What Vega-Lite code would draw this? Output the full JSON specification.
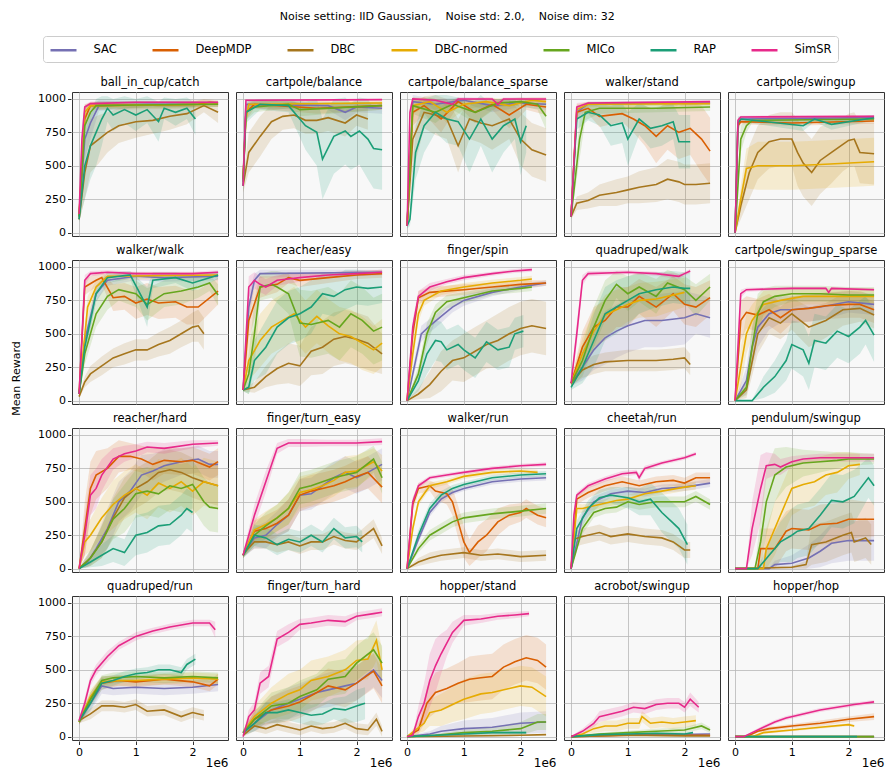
{
"$schema": "https://vega.github.io/schema/vega-lite/v6.json",
"padding": {"left": 10, "top": 10, "right": 5, "bottom": 3},
"title": {"text": "Noise setting: IID Gaussian,\u00a0\u00a0\u00a0 Noise std: 2.0,\u00a0\u00a0\u00a0 Noise dim: 32", "fontSize": 11, "font": "DejaVu Sans", "fontWeight": "normal", "color": "#000", "anchor": "middle", "offset": 14},
"datasets": {
"tasks": [{"p":0,"task":"ball_in_cup/catch"},{"p":1,"task":"cartpole/balance"},{"p":2,"task":"cartpole/balance_sparse"},{"p":3,"task":"walker/stand"},{"p":4,"task":"cartpole/swingup"},{"p":5,"task":"walker/walk"},{"p":6,"task":"reacher/easy"},{"p":7,"task":"finger/spin"},{"p":8,"task":"quadruped/walk"},{"p":9,"task":"cartpole/swingup_sparse"},{"p":10,"task":"reacher/hard"},{"p":11,"task":"finger/turn_easy"},{"p":12,"task":"walker/run"},{"p":13,"task":"cheetah/run"},{"p":14,"task":"pendulum/swingup"},{"p":15,"task":"quadruped/run"},{"p":16,"task":"finger/turn_hard"},{"p":17,"task":"hopper/stand"},{"p":18,"task":"acrobot/swingup"},{"p":19,"task":"hopper/hop"}],
"methods": [{"m":0,"method":"SAC"},{"m":1,"method":"DeepMDP"},{"m":2,"method":"DBC"},{"m":3,"method":"DBC-normed"},{"m":4,"method":"MICo"},{"m":5,"method":"RAP"},{"m":6,"method":"SimSR"}],
"runs": [
{"p":0,"m":0,"x":0,"y":120,"l":100,"h":140},{"p":0,"m":0,"x":0.1,"y":700,"l":550,"h":850},{"p":0,"m":0,"x":0.2,"y":820,"l":700,"h":940},{"p":0,"m":0,"x":0.35,"y":950,"l":910,"h":990},{"p":0,"m":0,"x":1.2,"y":960,"l":940,"h":980},{"p":0,"m":0,"x":2.45,"y":960,"l":940,"h":980},
{"p":0,"m":1,"x":0,"y":130,"l":110,"h":150},{"p":0,"m":1,"x":0.1,"y":850,"l":750,"h":950},{"p":0,"m":1,"x":0.2,"y":950,"l":920,"h":980},{"p":0,"m":1,"x":1.5,"y":955,"l":925,"h":985},{"p":0,"m":1,"x":2.1,"y":960,"l":930,"h":990},{"p":0,"m":1,"x":2.3,"y":975,"l":955,"h":995},{"p":0,"m":1,"x":2.45,"y":970,"l":950,"h":990},
{"p":0,"m":2,"x":0,"y":100,"l":80,"h":120},{"p":0,"m":2,"x":0.1,"y":450,"l":250,"h":650},{"p":0,"m":2,"x":0.2,"y":650,"l":450,"h":850},{"p":0,"m":2,"x":0.35,"y":700,"l":520,"h":880},{"p":0,"m":2,"x":0.5,"y":750,"l":600,"h":900},{"p":0,"m":2,"x":0.7,"y":800,"l":670,"h":930},{"p":0,"m":2,"x":1.0,"y":830,"l":710,"h":950},{"p":0,"m":2,"x":1.3,"y":840,"l":740,"h":940},{"p":0,"m":2,"x":1.6,"y":870,"l":770,"h":970},{"p":0,"m":2,"x":1.9,"y":890,"l":810,"h":970},{"p":0,"m":2,"x":2.2,"y":950,"l":900,"h":1000},{"p":0,"m":2,"x":2.45,"y":900,"l":820,"h":980},
{"p":0,"m":3,"x":0,"y":130,"l":110,"h":150},{"p":0,"m":3,"x":0.1,"y":900,"l":840,"h":960},{"p":0,"m":3,"x":0.2,"y":950,"l":930,"h":970},{"p":0,"m":3,"x":2.45,"y":960,"l":940,"h":980},
{"p":0,"m":4,"x":0,"y":120,"l":100,"h":140},{"p":0,"m":4,"x":0.1,"y":800,"l":650,"h":950},{"p":0,"m":4,"x":0.2,"y":900,"l":840,"h":960},{"p":0,"m":4,"x":0.3,"y":950,"l":920,"h":980},{"p":0,"m":4,"x":1,"y":955,"l":935,"h":975},{"p":0,"m":4,"x":2.45,"y":960,"l":940,"h":980},
{"p":0,"m":5,"x":0,"y":100,"l":80,"h":120},{"p":0,"m":5,"x":0.1,"y":500,"l":250,"h":750},{"p":0,"m":5,"x":0.2,"y":650,"l":400,"h":900},{"p":0,"m":5,"x":0.3,"y":750,"l":500,"h":1000},{"p":0,"m":5,"x":0.4,"y":850,"l":650,"h":1020},{"p":0,"m":5,"x":0.5,"y":930,"l":830,"h":1020},{"p":0,"m":5,"x":0.6,"y":880,"l":760,"h":1000},{"p":0,"m":5,"x":0.8,"y":920,"l":820,"h":1020},{"p":0,"m":5,"x":1.0,"y":880,"l":760,"h":1000},{"p":0,"m":5,"x":1.2,"y":920,"l":820,"h":1020},{"p":0,"m":5,"x":1.4,"y":830,"l":680,"h":980},{"p":0,"m":5,"x":1.5,"y":930,"l":850,"h":1010},{"p":0,"m":5,"x":1.7,"y":900,"l":800,"h":1000},{"p":0,"m":5,"x":1.9,"y":930,"l":850,"h":1010},{"p":0,"m":5,"x":2.05,"y":850,"l":730,"h":970},
{"p":0,"m":6,"x":0,"y":140,"l":120,"h":160},{"p":0,"m":6,"x":0.05,"y":700,"l":600,"h":800},{"p":0,"m":6,"x":0.1,"y":940,"l":920,"h":960},{"p":0,"m":6,"x":0.2,"y":965,"l":950,"h":980},{"p":0,"m":6,"x":1,"y":975,"l":965,"h":985},{"p":0,"m":6,"x":2.45,"y":975,"l":965,"h":985},

{"p":1,"m":0,"x":0,"y":400,"l":350,"h":450},{"p":1,"m":0,"x":0.05,"y":960,"l":930,"h":990},{"p":1,"m":0,"x":1.5,"y":950,"l":920,"h":980},{"p":1,"m":0,"x":1.8,"y":900,"l":840,"h":960},{"p":1,"m":0,"x":2.0,"y":940,"l":900,"h":980},{"p":1,"m":0,"x":2.45,"y":930,"l":890,"h":970},
{"p":1,"m":1,"x":0,"y":400,"l":350,"h":450},{"p":1,"m":1,"x":0.05,"y":900,"l":840,"h":960},{"p":1,"m":1,"x":0.2,"y":960,"l":930,"h":990},{"p":1,"m":1,"x":1.3,"y":930,"l":890,"h":970},{"p":1,"m":1,"x":2.45,"y":950,"l":920,"h":980},
{"p":1,"m":2,"x":0,"y":350,"l":300,"h":400},{"p":1,"m":2,"x":0.1,"y":600,"l":450,"h":750},{"p":1,"m":2,"x":0.3,"y":720,"l":570,"h":870},{"p":1,"m":2,"x":0.5,"y":830,"l":700,"h":960},{"p":1,"m":2,"x":0.7,"y":870,"l":770,"h":970},{"p":1,"m":2,"x":0.9,"y":880,"l":780,"h":980},{"p":1,"m":2,"x":1.1,"y":840,"l":740,"h":940},{"p":1,"m":2,"x":1.3,"y":840,"l":740,"h":940},{"p":1,"m":2,"x":1.5,"y":860,"l":760,"h":960},{"p":1,"m":2,"x":1.8,"y":820,"l":720,"h":920},{"p":1,"m":2,"x":2.0,"y":880,"l":800,"h":960},{"p":1,"m":2,"x":2.2,"y":850,"l":770,"h":930},
{"p":1,"m":3,"x":0,"y":400,"l":350,"h":450},{"p":1,"m":3,"x":0.05,"y":850,"l":750,"h":950},{"p":1,"m":3,"x":0.1,"y":960,"l":930,"h":990},{"p":1,"m":3,"x":2.45,"y":970,"l":950,"h":990},
{"p":1,"m":4,"x":0,"y":380,"l":330,"h":430},{"p":1,"m":4,"x":0.05,"y":900,"l":840,"h":960},{"p":1,"m":4,"x":0.2,"y":940,"l":900,"h":980},{"p":1,"m":4,"x":0.8,"y":960,"l":930,"h":990},{"p":1,"m":4,"x":1.0,"y":920,"l":870,"h":970},{"p":1,"m":4,"x":2.45,"y":950,"l":920,"h":980},
{"p":1,"m":5,"x":0,"y":350,"l":300,"h":400},{"p":1,"m":5,"x":0.05,"y":900,"l":820,"h":980},{"p":1,"m":5,"x":0.3,"y":960,"l":920,"h":1000},{"p":1,"m":5,"x":0.8,"y":950,"l":900,"h":1000},{"p":1,"m":5,"x":1.1,"y":800,"l":620,"h":980},{"p":1,"m":5,"x":1.3,"y":750,"l":500,"h":1000},{"p":1,"m":5,"x":1.4,"y":550,"l":250,"h":850},{"p":1,"m":5,"x":1.6,"y":720,"l":440,"h":1000},{"p":1,"m":5,"x":1.8,"y":760,"l":510,"h":1010},{"p":1,"m":5,"x":1.9,"y":720,"l":470,"h":970},{"p":1,"m":5,"x":2.05,"y":760,"l":510,"h":1010},{"p":1,"m":5,"x":2.2,"y":700,"l":400,"h":1000},{"p":1,"m":5,"x":2.3,"y":630,"l":330,"h":930},{"p":1,"m":5,"x":2.45,"y":620,"l":320,"h":920},
{"p":1,"m":6,"x":0,"y":350,"l":320,"h":380},{"p":1,"m":6,"x":0.05,"y":990,"l":980,"h":1000},{"p":1,"m":6,"x":2.45,"y":995,"l":990,"h":1000},

{"p":2,"m":0,"x":0,"y":50,"l":40,"h":60},{"p":2,"m":0,"x":0.1,"y":980,"l":930,"h":1030},{"p":2,"m":0,"x":0.5,"y":960,"l":920,"h":1000},{"p":2,"m":0,"x":1.0,"y":990,"l":970,"h":1010},{"p":2,"m":0,"x":1.5,"y":950,"l":900,"h":1000},{"p":2,"m":0,"x":2.0,"y":970,"l":940,"h":1000},{"p":2,"m":0,"x":2.45,"y":960,"l":920,"h":1000},
{"p":2,"m":1,"x":0,"y":50,"l":40,"h":60},{"p":2,"m":1,"x":0.1,"y":900,"l":800,"h":1000},{"p":2,"m":1,"x":0.3,"y":950,"l":890,"h":1010},{"p":2,"m":1,"x":0.6,"y":850,"l":750,"h":950},{"p":2,"m":1,"x":0.9,"y":980,"l":950,"h":1010},{"p":2,"m":1,"x":1.2,"y":900,"l":820,"h":980},{"p":2,"m":1,"x":1.5,"y":960,"l":920,"h":1000},{"p":2,"m":1,"x":1.8,"y":880,"l":780,"h":980},{"p":2,"m":1,"x":2.1,"y":960,"l":920,"h":1000},{"p":2,"m":1,"x":2.45,"y":940,"l":880,"h":1000},
{"p":2,"m":2,"x":0,"y":50,"l":30,"h":70},{"p":2,"m":2,"x":0.1,"y":700,"l":450,"h":950},{"p":2,"m":2,"x":0.3,"y":900,"l":780,"h":1020},{"p":2,"m":2,"x":0.5,"y":880,"l":730,"h":1030},{"p":2,"m":2,"x":0.7,"y":850,"l":700,"h":1000},{"p":2,"m":2,"x":0.9,"y":650,"l":450,"h":850},{"p":2,"m":2,"x":1.1,"y":850,"l":700,"h":1000},{"p":2,"m":2,"x":1.3,"y":820,"l":670,"h":970},{"p":2,"m":2,"x":1.5,"y":800,"l":620,"h":980},{"p":2,"m":2,"x":1.8,"y":850,"l":700,"h":1000},{"p":2,"m":2,"x":2.0,"y":700,"l":500,"h":900},{"p":2,"m":2,"x":2.2,"y":620,"l":420,"h":820},{"p":2,"m":2,"x":2.45,"y":580,"l":380,"h":780},
{"p":2,"m":3,"x":0,"y":50,"l":40,"h":60},{"p":2,"m":3,"x":0.1,"y":950,"l":890,"h":1010},{"p":2,"m":3,"x":0.4,"y":980,"l":950,"h":1010},{"p":2,"m":3,"x":0.7,"y":900,"l":820,"h":980},{"p":2,"m":3,"x":1.0,"y":960,"l":920,"h":1000},{"p":2,"m":3,"x":1.4,"y":980,"l":950,"h":1010},{"p":2,"m":3,"x":1.8,"y":950,"l":900,"h":1000},{"p":2,"m":3,"x":2.2,"y":990,"l":970,"h":1010},{"p":2,"m":3,"x":2.45,"y":980,"l":950,"h":1010},
{"p":2,"m":4,"x":0,"y":50,"l":40,"h":60},{"p":2,"m":4,"x":0.1,"y":950,"l":890,"h":1010},{"p":2,"m":4,"x":0.5,"y":900,"l":820,"h":980},{"p":2,"m":4,"x":0.8,"y":960,"l":920,"h":1000},{"p":2,"m":4,"x":1.2,"y":900,"l":820,"h":980},{"p":2,"m":4,"x":1.6,"y":970,"l":940,"h":1000},{"p":2,"m":4,"x":2.0,"y":980,"l":950,"h":1010},{"p":2,"m":4,"x":2.3,"y":960,"l":920,"h":1000},{"p":2,"m":4,"x":2.45,"y":870,"l":770,"h":970},
{"p":2,"m":5,"x":0,"y":50,"l":30,"h":70},{"p":2,"m":5,"x":0.05,"y":100,"l":50,"h":150},{"p":2,"m":5,"x":0.15,"y":600,"l":400,"h":800},{"p":2,"m":5,"x":0.3,"y":800,"l":600,"h":1000},{"p":2,"m":5,"x":0.5,"y":900,"l":750,"h":1030},{"p":2,"m":5,"x":0.7,"y":850,"l":670,"h":1030},{"p":2,"m":5,"x":0.9,"y":830,"l":650,"h":1010},{"p":2,"m":5,"x":1.1,"y":700,"l":450,"h":950},{"p":2,"m":5,"x":1.3,"y":850,"l":650,"h":1030},{"p":2,"m":5,"x":1.5,"y":700,"l":450,"h":950},{"p":2,"m":5,"x":1.7,"y":800,"l":600,"h":1000},{"p":2,"m":5,"x":1.9,"y":850,"l":700,"h":1000},{"p":2,"m":5,"x":2.0,"y":680,"l":430,"h":930},{"p":2,"m":5,"x":2.1,"y":800,"l":600,"h":1000},
{"p":2,"m":6,"x":0,"y":50,"l":40,"h":60},{"p":2,"m":6,"x":0.05,"y":900,"l":850,"h":950},{"p":2,"m":6,"x":0.1,"y":1000,"l":990,"h":1010},{"p":2,"m":6,"x":0.5,"y":990,"l":980,"h":1000},{"p":2,"m":6,"x":0.8,"y":960,"l":930,"h":990},{"p":2,"m":6,"x":0.9,"y":1000,"l":990,"h":1010},{"p":2,"m":6,"x":1.5,"y":1000,"l":990,"h":1010},{"p":2,"m":6,"x":1.6,"y":960,"l":930,"h":990},{"p":2,"m":6,"x":1.7,"y":1000,"l":990,"h":1010},{"p":2,"m":6,"x":2.45,"y":1000,"l":990,"h":1010},

{"p":3,"m":0,"x":0,"y":120,"l":110,"h":130},{"p":3,"m":0,"x":0.1,"y":900,"l":850,"h":950},{"p":3,"m":0,"x":0.3,"y":965,"l":950,"h":980},{"p":3,"m":0,"x":2.45,"y":970,"l":955,"h":985},
{"p":3,"m":1,"x":0,"y":120,"l":110,"h":130},{"p":3,"m":1,"x":0.1,"y":900,"l":850,"h":950},{"p":3,"m":1,"x":0.3,"y":930,"l":890,"h":970},{"p":3,"m":1,"x":0.5,"y":870,"l":790,"h":950},{"p":3,"m":1,"x":0.9,"y":890,"l":830,"h":950},{"p":3,"m":1,"x":1.1,"y":850,"l":750,"h":950},{"p":3,"m":1,"x":1.3,"y":800,"l":650,"h":950},{"p":3,"m":1,"x":1.5,"y":720,"l":520,"h":920},{"p":3,"m":1,"x":1.7,"y":800,"l":620,"h":980},{"p":3,"m":1,"x":1.9,"y":750,"l":550,"h":950},{"p":3,"m":1,"x":2.1,"y":780,"l":580,"h":980},{"p":3,"m":1,"x":2.3,"y":700,"l":450,"h":950},{"p":3,"m":1,"x":2.45,"y":610,"l":360,"h":860},
{"p":3,"m":2,"x":0,"y":120,"l":100,"h":140},{"p":3,"m":2,"x":0.1,"y":220,"l":170,"h":270},{"p":3,"m":2,"x":0.3,"y":240,"l":180,"h":300},{"p":3,"m":2,"x":0.5,"y":280,"l":200,"h":360},{"p":3,"m":2,"x":0.8,"y":300,"l":200,"h":400},{"p":3,"m":2,"x":1.0,"y":320,"l":220,"h":420},{"p":3,"m":2,"x":1.2,"y":340,"l":220,"h":460},{"p":3,"m":2,"x":1.5,"y":360,"l":230,"h":490},{"p":3,"m":2,"x":1.7,"y":400,"l":250,"h":550},{"p":3,"m":2,"x":1.9,"y":380,"l":230,"h":530},{"p":3,"m":2,"x":2.0,"y":360,"l":210,"h":510},{"p":3,"m":2,"x":2.2,"y":360,"l":210,"h":510},{"p":3,"m":2,"x":2.45,"y":370,"l":220,"h":520},
{"p":3,"m":3,"x":0,"y":120,"l":110,"h":130},{"p":3,"m":3,"x":0.1,"y":920,"l":880,"h":960},{"p":3,"m":3,"x":0.3,"y":960,"l":940,"h":980},{"p":3,"m":3,"x":2.45,"y":965,"l":950,"h":980},
{"p":3,"m":4,"x":0,"y":120,"l":110,"h":130},{"p":3,"m":4,"x":0.15,"y":700,"l":550,"h":850},{"p":3,"m":4,"x":0.25,"y":900,"l":840,"h":960},{"p":3,"m":4,"x":0.5,"y":930,"l":890,"h":970},{"p":3,"m":4,"x":1.5,"y":930,"l":900,"h":960},{"p":3,"m":4,"x":2.45,"y":940,"l":910,"h":970},
{"p":3,"m":5,"x":0,"y":120,"l":110,"h":130},{"p":3,"m":5,"x":0.1,"y":850,"l":770,"h":930},{"p":3,"m":5,"x":0.3,"y":900,"l":840,"h":960},{"p":3,"m":5,"x":0.5,"y":880,"l":800,"h":960},{"p":3,"m":5,"x":0.7,"y":800,"l":650,"h":950},{"p":3,"m":5,"x":0.9,"y":820,"l":670,"h":970},{"p":3,"m":5,"x":1.0,"y":700,"l":500,"h":900},{"p":3,"m":5,"x":1.2,"y":850,"l":730,"h":970},{"p":3,"m":5,"x":1.4,"y":780,"l":630,"h":930},{"p":3,"m":5,"x":1.6,"y":800,"l":650,"h":950},{"p":3,"m":5,"x":1.8,"y":830,"l":700,"h":960},{"p":3,"m":5,"x":1.9,"y":680,"l":480,"h":880},{"p":3,"m":5,"x":2.1,"y":680,"l":480,"h":880},
{"p":3,"m":6,"x":0,"y":120,"l":110,"h":130},{"p":3,"m":6,"x":0.1,"y":940,"l":910,"h":970},{"p":3,"m":6,"x":0.3,"y":970,"l":960,"h":980},{"p":3,"m":6,"x":2.45,"y":980,"l":970,"h":990},

{"p":4,"m":0,"x":0,"y":0,"l":0,"h":10},{"p":4,"m":0,"x":0.05,"y":800,"l":750,"h":850},{"p":4,"m":0,"x":0.1,"y":850,"l":830,"h":870},{"p":4,"m":0,"x":2.45,"y":860,"l":845,"h":875},
{"p":4,"m":1,"x":0,"y":0,"l":0,"h":10},{"p":4,"m":1,"x":0.05,"y":800,"l":750,"h":850},{"p":4,"m":1,"x":0.1,"y":830,"l":810,"h":850},{"p":4,"m":1,"x":1.0,"y":820,"l":800,"h":840},{"p":4,"m":1,"x":2.45,"y":835,"l":815,"h":855},
{"p":4,"m":2,"x":0,"y":0,"l":0,"h":10},{"p":4,"m":2,"x":0.1,"y":200,"l":100,"h":300},{"p":4,"m":2,"x":0.25,"y":450,"l":250,"h":650},{"p":4,"m":2,"x":0.4,"y":600,"l":400,"h":800},{"p":4,"m":2,"x":0.6,"y":680,"l":480,"h":880},{"p":4,"m":2,"x":0.8,"y":700,"l":500,"h":900},{"p":4,"m":2,"x":1.0,"y":700,"l":500,"h":900},{"p":4,"m":2,"x":1.1,"y":600,"l":350,"h":850},{"p":4,"m":2,"x":1.2,"y":520,"l":270,"h":770},{"p":4,"m":2,"x":1.35,"y":450,"l":200,"h":700},{"p":4,"m":2,"x":1.5,"y":540,"l":290,"h":790},{"p":4,"m":2,"x":1.7,"y":600,"l":370,"h":830},{"p":4,"m":2,"x":1.9,"y":660,"l":460,"h":860},{"p":4,"m":2,"x":2.0,"y":690,"l":490,"h":890},{"p":4,"m":2,"x":2.1,"y":700,"l":500,"h":900},{"p":4,"m":2,"x":2.2,"y":600,"l":370,"h":830},{"p":4,"m":2,"x":2.45,"y":590,"l":360,"h":820},
{"p":4,"m":3,"x":0,"y":0,"l":0,"h":10},{"p":4,"m":3,"x":0.1,"y":250,"l":150,"h":350},{"p":4,"m":3,"x":0.2,"y":480,"l":330,"h":630},{"p":4,"m":3,"x":0.4,"y":500,"l":320,"h":680},{"p":4,"m":3,"x":1.0,"y":500,"l":320,"h":680},{"p":4,"m":3,"x":1.5,"y":510,"l":330,"h":690},{"p":4,"m":3,"x":2.45,"y":530,"l":350,"h":710},
{"p":4,"m":4,"x":0,"y":0,"l":0,"h":10},{"p":4,"m":4,"x":0.1,"y":700,"l":600,"h":800},{"p":4,"m":4,"x":0.2,"y":800,"l":750,"h":850},{"p":4,"m":4,"x":0.3,"y":840,"l":820,"h":860},{"p":4,"m":4,"x":2.45,"y":850,"l":830,"h":870},
{"p":4,"m":5,"x":0,"y":0,"l":0,"h":10},{"p":4,"m":5,"x":0.05,"y":820,"l":770,"h":870},{"p":4,"m":5,"x":0.1,"y":850,"l":830,"h":870},{"p":4,"m":5,"x":1.2,"y":800,"l":760,"h":840},{"p":4,"m":5,"x":1.4,"y":850,"l":830,"h":870},{"p":4,"m":5,"x":1.7,"y":810,"l":770,"h":850},{"p":4,"m":5,"x":2.45,"y":860,"l":840,"h":880},
{"p":4,"m":6,"x":0,"y":0,"l":0,"h":10},{"p":4,"m":6,"x":0.05,"y":840,"l":820,"h":860},{"p":4,"m":6,"x":0.1,"y":865,"l":855,"h":875},{"p":4,"m":6,"x":2.45,"y":870,"l":860,"h":880},

{"p":5,"m":0,"x":0,"y":50,"l":40,"h":60},{"p":5,"m":0,"x":0.1,"y":450,"l":370,"h":530},{"p":5,"m":0,"x":0.3,"y":800,"l":740,"h":860},{"p":5,"m":0,"x":0.5,"y":900,"l":860,"h":940},{"p":5,"m":0,"x":1,"y":930,"l":900,"h":960},{"p":5,"m":0,"x":1.5,"y":920,"l":890,"h":950},{"p":5,"m":0,"x":2.45,"y":930,"l":900,"h":960},
{"p":5,"m":1,"x":0,"y":50,"l":40,"h":60},{"p":5,"m":1,"x":0.1,"y":850,"l":790,"h":910},{"p":5,"m":1,"x":0.3,"y":900,"l":850,"h":950},{"p":5,"m":1,"x":0.4,"y":920,"l":870,"h":970},{"p":5,"m":1,"x":0.6,"y":770,"l":670,"h":870},{"p":5,"m":1,"x":0.8,"y":780,"l":680,"h":880},{"p":5,"m":1,"x":1.0,"y":730,"l":610,"h":850},{"p":5,"m":1,"x":1.2,"y":760,"l":640,"h":880},{"p":5,"m":1,"x":1.4,"y":730,"l":610,"h":850},{"p":5,"m":1,"x":1.7,"y":740,"l":620,"h":860},{"p":5,"m":1,"x":1.9,"y":700,"l":570,"h":830},{"p":5,"m":1,"x":2.1,"y":700,"l":570,"h":830},{"p":5,"m":1,"x":2.45,"y":820,"l":720,"h":920},
{"p":5,"m":2,"x":0,"y":30,"l":20,"h":40},{"p":5,"m":2,"x":0.1,"y":140,"l":100,"h":180},{"p":5,"m":2,"x":0.2,"y":200,"l":140,"h":260},{"p":5,"m":2,"x":0.4,"y":260,"l":190,"h":330},{"p":5,"m":2,"x":0.6,"y":320,"l":250,"h":390},{"p":5,"m":2,"x":0.8,"y":350,"l":270,"h":430},{"p":5,"m":2,"x":1.0,"y":380,"l":300,"h":460},{"p":5,"m":2,"x":1.2,"y":380,"l":300,"h":460},{"p":5,"m":2,"x":1.4,"y":420,"l":330,"h":510},{"p":5,"m":2,"x":1.6,"y":450,"l":350,"h":550},{"p":5,"m":2,"x":1.8,"y":500,"l":400,"h":600},{"p":5,"m":2,"x":2.0,"y":550,"l":440,"h":660},{"p":5,"m":2,"x":2.1,"y":560,"l":440,"h":680},{"p":5,"m":2,"x":2.2,"y":500,"l":380,"h":620},
{"p":5,"m":3,"x":0,"y":50,"l":40,"h":60},{"p":5,"m":3,"x":0.15,"y":700,"l":620,"h":780},{"p":5,"m":3,"x":0.3,"y":850,"l":800,"h":900},{"p":5,"m":3,"x":0.5,"y":930,"l":900,"h":960},{"p":5,"m":3,"x":2.45,"y":940,"l":920,"h":960},
{"p":5,"m":4,"x":0,"y":50,"l":40,"h":60},{"p":5,"m":4,"x":0.1,"y":350,"l":270,"h":430},{"p":5,"m":4,"x":0.3,"y":650,"l":550,"h":750},{"p":5,"m":4,"x":0.5,"y":780,"l":680,"h":880},{"p":5,"m":4,"x":0.7,"y":830,"l":750,"h":910},{"p":5,"m":4,"x":1.0,"y":800,"l":700,"h":900},{"p":5,"m":4,"x":1.2,"y":720,"l":600,"h":840},{"p":5,"m":4,"x":1.5,"y":800,"l":700,"h":900},{"p":5,"m":4,"x":1.8,"y":820,"l":720,"h":920},{"p":5,"m":4,"x":2.1,"y":850,"l":770,"h":930},{"p":5,"m":4,"x":2.3,"y":880,"l":820,"h":940},{"p":5,"m":4,"x":2.45,"y":790,"l":710,"h":870},
{"p":5,"m":5,"x":0,"y":50,"l":40,"h":60},{"p":5,"m":5,"x":0.1,"y":400,"l":320,"h":480},{"p":5,"m":5,"x":0.3,"y":800,"l":740,"h":860},{"p":5,"m":5,"x":0.5,"y":920,"l":880,"h":960},{"p":5,"m":5,"x":0.9,"y":940,"l":910,"h":970},{"p":5,"m":5,"x":1.2,"y":700,"l":550,"h":850},{"p":5,"m":5,"x":1.3,"y":900,"l":840,"h":960},{"p":5,"m":5,"x":1.7,"y":920,"l":880,"h":960},{"p":5,"m":5,"x":2.0,"y":880,"l":820,"h":940},{"p":5,"m":5,"x":2.3,"y":920,"l":880,"h":960},{"p":5,"m":5,"x":2.45,"y":940,"l":910,"h":970},
{"p":5,"m":6,"x":0,"y":50,"l":40,"h":60},{"p":5,"m":6,"x":0.1,"y":900,"l":860,"h":940},{"p":5,"m":6,"x":0.2,"y":950,"l":930,"h":970},{"p":5,"m":6,"x":0.5,"y":960,"l":945,"h":975},{"p":5,"m":6,"x":1,"y":950,"l":935,"h":965},{"p":5,"m":6,"x":2,"y":950,"l":935,"h":965},{"p":5,"m":6,"x":2.45,"y":960,"l":945,"h":975},

{"p":6,"m":0,"x":0,"y":80,"l":70,"h":90},{"p":6,"m":0,"x":0.1,"y":700,"l":600,"h":800},{"p":6,"m":0,"x":0.2,"y":900,"l":850,"h":950},{"p":6,"m":0,"x":0.3,"y":950,"l":920,"h":980},{"p":6,"m":0,"x":2.45,"y":960,"l":940,"h":980},
{"p":6,"m":1,"x":0,"y":80,"l":70,"h":90},{"p":6,"m":1,"x":0.1,"y":600,"l":450,"h":750},{"p":6,"m":1,"x":0.3,"y":850,"l":770,"h":930},{"p":6,"m":1,"x":0.6,"y":870,"l":810,"h":930},{"p":6,"m":1,"x":0.8,"y":920,"l":880,"h":960},{"p":6,"m":1,"x":1.0,"y":900,"l":850,"h":950},{"p":6,"m":1,"x":1.5,"y":920,"l":880,"h":960},{"p":6,"m":1,"x":2.0,"y":940,"l":910,"h":970},{"p":6,"m":1,"x":2.45,"y":950,"l":920,"h":980},
{"p":6,"m":2,"x":0,"y":80,"l":70,"h":90},{"p":6,"m":2,"x":0.2,"y":100,"l":60,"h":140},{"p":6,"m":2,"x":0.4,"y":180,"l":100,"h":260},{"p":6,"m":2,"x":0.6,"y":240,"l":120,"h":360},{"p":6,"m":2,"x":0.8,"y":280,"l":130,"h":430},{"p":6,"m":2,"x":1.0,"y":260,"l":110,"h":410},{"p":6,"m":2,"x":1.2,"y":370,"l":190,"h":550},{"p":6,"m":2,"x":1.4,"y":400,"l":200,"h":600},{"p":6,"m":2,"x":1.6,"y":460,"l":260,"h":660},{"p":6,"m":2,"x":1.8,"y":480,"l":280,"h":680},{"p":6,"m":2,"x":2.0,"y":460,"l":260,"h":660},{"p":6,"m":2,"x":2.2,"y":430,"l":230,"h":630},{"p":6,"m":2,"x":2.45,"y":350,"l":200,"h":500},
{"p":6,"m":3,"x":0,"y":80,"l":70,"h":90},{"p":6,"m":3,"x":0.1,"y":300,"l":150,"h":450},{"p":6,"m":3,"x":0.3,"y":450,"l":250,"h":650},{"p":6,"m":3,"x":0.5,"y":550,"l":350,"h":750},{"p":6,"m":3,"x":0.7,"y":600,"l":400,"h":800},{"p":6,"m":3,"x":0.9,"y":650,"l":450,"h":850},{"p":6,"m":3,"x":1.1,"y":550,"l":350,"h":750},{"p":6,"m":3,"x":1.3,"y":630,"l":430,"h":830},{"p":6,"m":3,"x":1.5,"y":560,"l":360,"h":760},{"p":6,"m":3,"x":1.7,"y":500,"l":300,"h":700},{"p":6,"m":3,"x":1.9,"y":480,"l":280,"h":680},{"p":6,"m":3,"x":2.1,"y":430,"l":230,"h":630},{"p":6,"m":3,"x":2.3,"y":380,"l":200,"h":560},{"p":6,"m":3,"x":2.45,"y":430,"l":250,"h":610},
{"p":6,"m":4,"x":0,"y":80,"l":70,"h":90},{"p":6,"m":4,"x":0.1,"y":200,"l":50,"h":350},{"p":6,"m":4,"x":0.2,"y":500,"l":250,"h":750},{"p":6,"m":4,"x":0.3,"y":850,"l":750,"h":950},{"p":6,"m":4,"x":0.5,"y":870,"l":770,"h":970},{"p":6,"m":4,"x":0.6,"y":850,"l":730,"h":970},{"p":6,"m":4,"x":0.8,"y":800,"l":650,"h":950},{"p":6,"m":4,"x":1.0,"y":580,"l":330,"h":830},{"p":6,"m":4,"x":1.2,"y":570,"l":320,"h":820},{"p":6,"m":4,"x":1.5,"y":600,"l":350,"h":850},{"p":6,"m":4,"x":1.7,"y":550,"l":300,"h":800},{"p":6,"m":4,"x":1.9,"y":650,"l":400,"h":900},{"p":6,"m":4,"x":2.1,"y":600,"l":350,"h":850},{"p":6,"m":4,"x":2.3,"y":520,"l":270,"h":770},{"p":6,"m":4,"x":2.45,"y":550,"l":300,"h":800},
{"p":6,"m":5,"x":0,"y":80,"l":70,"h":90},{"p":6,"m":5,"x":0.1,"y":100,"l":50,"h":150},{"p":6,"m":5,"x":0.2,"y":300,"l":150,"h":450},{"p":6,"m":5,"x":0.4,"y":400,"l":200,"h":600},{"p":6,"m":5,"x":0.6,"y":550,"l":350,"h":750},{"p":6,"m":5,"x":0.8,"y":620,"l":420,"h":820},{"p":6,"m":5,"x":1.0,"y":650,"l":450,"h":850},{"p":6,"m":5,"x":1.2,"y":700,"l":500,"h":900},{"p":6,"m":5,"x":1.4,"y":800,"l":650,"h":950},{"p":6,"m":5,"x":1.6,"y":780,"l":630,"h":930},{"p":6,"m":5,"x":1.8,"y":830,"l":680,"h":980},{"p":6,"m":5,"x":2.0,"y":850,"l":720,"h":980},{"p":6,"m":5,"x":2.2,"y":840,"l":710,"h":970},{"p":6,"m":5,"x":2.45,"y":850,"l":730,"h":970},
{"p":6,"m":6,"x":0,"y":80,"l":70,"h":90},{"p":6,"m":6,"x":0.1,"y":850,"l":770,"h":930},{"p":6,"m":6,"x":0.2,"y":900,"l":840,"h":960},{"p":6,"m":6,"x":0.3,"y":870,"l":810,"h":930},{"p":6,"m":6,"x":0.4,"y":850,"l":790,"h":910},{"p":6,"m":6,"x":0.6,"y":900,"l":860,"h":940},{"p":6,"m":6,"x":1.0,"y":920,"l":890,"h":950},{"p":6,"m":6,"x":1.5,"y":940,"l":920,"h":960},{"p":6,"m":6,"x":2.0,"y":950,"l":930,"h":970},{"p":6,"m":6,"x":2.45,"y":960,"l":940,"h":980},

{"p":7,"m":0,"x":0,"y":0,"l":0,"h":5},{"p":7,"m":0,"x":0.15,"y":300,"l":240,"h":360},{"p":7,"m":0,"x":0.25,"y":500,"l":440,"h":560},{"p":7,"m":0,"x":0.4,"y":560,"l":510,"h":610},{"p":7,"m":0,"x":0.6,"y":630,"l":580,"h":680},{"p":7,"m":0,"x":0.8,"y":700,"l":660,"h":740},{"p":7,"m":0,"x":1.0,"y":750,"l":710,"h":790},{"p":7,"m":0,"x":1.5,"y":810,"l":780,"h":840},{"p":7,"m":0,"x":2.0,"y":850,"l":830,"h":870},{"p":7,"m":0,"x":2.45,"y":880,"l":860,"h":900},
{"p":7,"m":1,"x":0,"y":0,"l":0,"h":5},{"p":7,"m":1,"x":0.1,"y":500,"l":420,"h":580},{"p":7,"m":1,"x":0.2,"y":770,"l":720,"h":820},{"p":7,"m":1,"x":0.4,"y":810,"l":770,"h":850},{"p":7,"m":1,"x":1.0,"y":830,"l":790,"h":870},{"p":7,"m":1,"x":1.5,"y":850,"l":820,"h":880},{"p":7,"m":1,"x":2.0,"y":870,"l":840,"h":900},{"p":7,"m":1,"x":2.45,"y":880,"l":860,"h":900},
{"p":7,"m":2,"x":0,"y":0,"l":0,"h":5},{"p":7,"m":2,"x":0.2,"y":50,"l":10,"h":90},{"p":7,"m":2,"x":0.4,"y":120,"l":20,"h":220},{"p":7,"m":2,"x":0.6,"y":220,"l":70,"h":370},{"p":7,"m":2,"x":0.8,"y":300,"l":150,"h":450},{"p":7,"m":2,"x":1.0,"y":320,"l":140,"h":500},{"p":7,"m":2,"x":1.2,"y":370,"l":190,"h":550},{"p":7,"m":2,"x":1.4,"y":420,"l":240,"h":600},{"p":7,"m":2,"x":1.6,"y":450,"l":250,"h":650},{"p":7,"m":2,"x":1.8,"y":500,"l":300,"h":700},{"p":7,"m":2,"x":2.0,"y":540,"l":340,"h":740},{"p":7,"m":2,"x":2.2,"y":560,"l":360,"h":760},{"p":7,"m":2,"x":2.45,"y":540,"l":340,"h":740},
{"p":7,"m":3,"x":0,"y":0,"l":0,"h":5},{"p":7,"m":3,"x":0.1,"y":350,"l":270,"h":430},{"p":7,"m":3,"x":0.2,"y":650,"l":590,"h":710},{"p":7,"m":3,"x":0.3,"y":750,"l":710,"h":790},{"p":7,"m":3,"x":0.6,"y":820,"l":790,"h":850},{"p":7,"m":3,"x":1.0,"y":850,"l":820,"h":880},{"p":7,"m":3,"x":1.5,"y":880,"l":855,"h":905},{"p":7,"m":3,"x":2.0,"y":900,"l":875,"h":925},{"p":7,"m":3,"x":2.2,"y":910,"l":885,"h":935},
{"p":7,"m":4,"x":0,"y":0,"l":0,"h":5},{"p":7,"m":4,"x":0.2,"y":200,"l":140,"h":260},{"p":7,"m":4,"x":0.35,"y":500,"l":420,"h":580},{"p":7,"m":4,"x":0.5,"y":660,"l":600,"h":720},{"p":7,"m":4,"x":0.7,"y":740,"l":690,"h":790},{"p":7,"m":4,"x":1.0,"y":770,"l":730,"h":810},{"p":7,"m":4,"x":1.5,"y":820,"l":790,"h":850},{"p":7,"m":4,"x":2.0,"y":840,"l":810,"h":870},{"p":7,"m":4,"x":2.2,"y":850,"l":820,"h":880},
{"p":7,"m":5,"x":0,"y":0,"l":0,"h":5},{"p":7,"m":5,"x":0.2,"y":150,"l":70,"h":230},{"p":7,"m":5,"x":0.35,"y":350,"l":200,"h":500},{"p":7,"m":5,"x":0.5,"y":450,"l":300,"h":600},{"p":7,"m":5,"x":0.6,"y":440,"l":290,"h":590},{"p":7,"m":5,"x":0.7,"y":380,"l":230,"h":530},{"p":7,"m":5,"x":0.9,"y":420,"l":270,"h":570},{"p":7,"m":5,"x":1.0,"y":380,"l":230,"h":530},{"p":7,"m":5,"x":1.2,"y":320,"l":170,"h":470},{"p":7,"m":5,"x":1.4,"y":440,"l":290,"h":590},{"p":7,"m":5,"x":1.6,"y":380,"l":230,"h":530},{"p":7,"m":5,"x":1.8,"y":400,"l":250,"h":550},{"p":7,"m":5,"x":1.9,"y":500,"l":380,"h":620},{"p":7,"m":5,"x":2.05,"y":520,"l":400,"h":640},
{"p":7,"m":6,"x":0,"y":0,"l":0,"h":5},{"p":7,"m":6,"x":0.1,"y":550,"l":490,"h":610},{"p":7,"m":6,"x":0.2,"y":780,"l":740,"h":820},{"p":7,"m":6,"x":0.4,"y":850,"l":820,"h":880},{"p":7,"m":6,"x":0.7,"y":890,"l":870,"h":910},{"p":7,"m":6,"x":1.0,"y":920,"l":900,"h":940},{"p":7,"m":6,"x":1.5,"y":950,"l":935,"h":965},{"p":7,"m":6,"x":1.9,"y":970,"l":955,"h":985},{"p":7,"m":6,"x":2.2,"y":980,"l":965,"h":995},

{"p":8,"m":0,"x":0,"y":130,"l":110,"h":150},{"p":8,"m":0,"x":0.2,"y":250,"l":150,"h":350},{"p":8,"m":0,"x":0.4,"y":380,"l":230,"h":530},{"p":8,"m":0,"x":0.6,"y":470,"l":270,"h":670},{"p":8,"m":0,"x":0.8,"y":520,"l":320,"h":720},{"p":8,"m":0,"x":1.0,"y":560,"l":360,"h":760},{"p":8,"m":0,"x":1.3,"y":600,"l":400,"h":800},{"p":8,"m":0,"x":1.6,"y":600,"l":400,"h":800},{"p":8,"m":0,"x":2.0,"y":620,"l":420,"h":820},{"p":8,"m":0,"x":2.2,"y":650,"l":500,"h":800},{"p":8,"m":0,"x":2.45,"y":620,"l":470,"h":770},
{"p":8,"m":1,"x":0,"y":130,"l":110,"h":150},{"p":8,"m":1,"x":0.2,"y":400,"l":280,"h":520},{"p":8,"m":1,"x":0.4,"y":550,"l":400,"h":700},{"p":8,"m":1,"x":0.6,"y":600,"l":450,"h":750},{"p":8,"m":1,"x":0.8,"y":700,"l":550,"h":850},{"p":8,"m":1,"x":1.0,"y":700,"l":550,"h":850},{"p":8,"m":1,"x":1.2,"y":780,"l":650,"h":910},{"p":8,"m":1,"x":1.5,"y":700,"l":550,"h":850},{"p":8,"m":1,"x":1.8,"y":800,"l":670,"h":930},{"p":8,"m":1,"x":2.0,"y":720,"l":570,"h":870},{"p":8,"m":1,"x":2.2,"y":700,"l":550,"h":850},{"p":8,"m":1,"x":2.45,"y":770,"l":640,"h":900},
{"p":8,"m":2,"x":0,"y":130,"l":110,"h":150},{"p":8,"m":2,"x":0.2,"y":230,"l":170,"h":290},{"p":8,"m":2,"x":0.4,"y":270,"l":200,"h":340},{"p":8,"m":2,"x":0.6,"y":290,"l":220,"h":360},{"p":8,"m":2,"x":1.0,"y":300,"l":220,"h":380},{"p":8,"m":2,"x":1.5,"y":300,"l":220,"h":380},{"p":8,"m":2,"x":1.8,"y":310,"l":230,"h":390},{"p":8,"m":2,"x":2.0,"y":320,"l":240,"h":400},{"p":8,"m":2,"x":2.1,"y":270,"l":190,"h":350},
{"p":8,"m":3,"x":0,"y":130,"l":110,"h":150},{"p":8,"m":3,"x":0.2,"y":350,"l":230,"h":470},{"p":8,"m":3,"x":0.4,"y":520,"l":370,"h":670},{"p":8,"m":3,"x":0.6,"y":640,"l":490,"h":790},{"p":8,"m":3,"x":0.8,"y":680,"l":530,"h":830},{"p":8,"m":3,"x":1.0,"y":720,"l":590,"h":850},{"p":8,"m":3,"x":1.2,"y":750,"l":620,"h":880},{"p":8,"m":3,"x":1.5,"y":760,"l":630,"h":890},{"p":8,"m":3,"x":2.0,"y":810,"l":700,"h":920},
{"p":8,"m":4,"x":0,"y":130,"l":110,"h":150},{"p":8,"m":4,"x":0.2,"y":300,"l":180,"h":420},{"p":8,"m":4,"x":0.4,"y":550,"l":400,"h":700},{"p":8,"m":4,"x":0.6,"y":750,"l":600,"h":900},{"p":8,"m":4,"x":0.8,"y":870,"l":770,"h":970},{"p":8,"m":4,"x":1.0,"y":800,"l":670,"h":930},{"p":8,"m":4,"x":1.2,"y":850,"l":740,"h":960},{"p":8,"m":4,"x":1.5,"y":780,"l":650,"h":910},{"p":8,"m":4,"x":1.7,"y":880,"l":780,"h":980},{"p":8,"m":4,"x":2.0,"y":830,"l":730,"h":930},{"p":8,"m":4,"x":2.2,"y":750,"l":630,"h":870},{"p":8,"m":4,"x":2.45,"y":850,"l":750,"h":950},
{"p":8,"m":5,"x":0,"y":100,"l":80,"h":120},{"p":8,"m":5,"x":0.2,"y":250,"l":130,"h":370},{"p":8,"m":5,"x":0.4,"y":450,"l":250,"h":650},{"p":8,"m":5,"x":0.6,"y":650,"l":450,"h":850},{"p":8,"m":5,"x":0.8,"y":700,"l":500,"h":900},{"p":8,"m":5,"x":1.0,"y":750,"l":570,"h":930},{"p":8,"m":5,"x":1.2,"y":800,"l":650,"h":950},{"p":8,"m":5,"x":1.5,"y":830,"l":700,"h":960},{"p":8,"m":5,"x":1.8,"y":850,"l":730,"h":970},{"p":8,"m":5,"x":2.0,"y":840,"l":720,"h":960},{"p":8,"m":5,"x":2.1,"y":840,"l":720,"h":960},
{"p":8,"m":6,"x":0,"y":130,"l":110,"h":150},{"p":8,"m":6,"x":0.1,"y":500,"l":420,"h":580},{"p":8,"m":6,"x":0.2,"y":900,"l":860,"h":940},{"p":8,"m":6,"x":0.3,"y":950,"l":930,"h":970},{"p":8,"m":6,"x":1.0,"y":960,"l":945,"h":975},{"p":8,"m":6,"x":1.5,"y":950,"l":935,"h":965},{"p":8,"m":6,"x":1.9,"y":930,"l":910,"h":950},{"p":8,"m":6,"x":2.0,"y":950,"l":935,"h":965},{"p":8,"m":6,"x":2.1,"y":970,"l":955,"h":985},

{"p":9,"m":0,"x":0,"y":0,"l":0,"h":5},{"p":9,"m":0,"x":0.2,"y":150,"l":50,"h":250},{"p":9,"m":0,"x":0.3,"y":400,"l":250,"h":550},{"p":9,"m":0,"x":0.4,"y":550,"l":400,"h":700},{"p":9,"m":0,"x":0.6,"y":650,"l":530,"h":770},{"p":9,"m":0,"x":0.8,"y":680,"l":580,"h":780},{"p":9,"m":0,"x":1.0,"y":680,"l":580,"h":780},{"p":9,"m":0,"x":1.5,"y":700,"l":600,"h":800},{"p":9,"m":0,"x":2.0,"y":740,"l":660,"h":820},{"p":9,"m":0,"x":2.45,"y":720,"l":640,"h":800},
{"p":9,"m":1,"x":0,"y":0,"l":0,"h":5},{"p":9,"m":1,"x":0.1,"y":600,"l":450,"h":750},{"p":9,"m":1,"x":0.2,"y":660,"l":540,"h":780},{"p":9,"m":1,"x":0.4,"y":640,"l":520,"h":760},{"p":9,"m":1,"x":0.6,"y":680,"l":560,"h":800},{"p":9,"m":1,"x":0.8,"y":620,"l":500,"h":740},{"p":9,"m":1,"x":1.0,"y":680,"l":580,"h":780},{"p":9,"m":1,"x":1.3,"y":690,"l":590,"h":790},{"p":9,"m":1,"x":1.6,"y":710,"l":610,"h":810},{"p":9,"m":1,"x":2.0,"y":720,"l":620,"h":820},{"p":9,"m":1,"x":2.2,"y":720,"l":620,"h":820},{"p":9,"m":1,"x":2.45,"y":680,"l":580,"h":780},
{"p":9,"m":2,"x":0,"y":0,"l":0,"h":5},{"p":9,"m":2,"x":0.2,"y":80,"l":20,"h":140},{"p":9,"m":2,"x":0.4,"y":500,"l":350,"h":650},{"p":9,"m":2,"x":0.6,"y":620,"l":500,"h":740},{"p":9,"m":2,"x":0.8,"y":580,"l":460,"h":700},{"p":9,"m":2,"x":1.0,"y":650,"l":530,"h":770},{"p":9,"m":2,"x":1.3,"y":550,"l":400,"h":700},{"p":9,"m":2,"x":1.6,"y":600,"l":470,"h":730},{"p":9,"m":2,"x":1.9,"y":680,"l":560,"h":800},{"p":9,"m":2,"x":2.2,"y":690,"l":590,"h":790},{"p":9,"m":2,"x":2.45,"y":640,"l":540,"h":740},
{"p":9,"m":3,"x":0,"y":0,"l":0,"h":5},{"p":9,"m":3,"x":0.1,"y":250,"l":100,"h":400},{"p":9,"m":3,"x":0.2,"y":500,"l":350,"h":650},{"p":9,"m":3,"x":0.3,"y":600,"l":480,"h":720},{"p":9,"m":3,"x":0.5,"y":720,"l":620,"h":820},{"p":9,"m":3,"x":0.8,"y":750,"l":670,"h":830},{"p":9,"m":3,"x":1.2,"y":780,"l":720,"h":840},{"p":9,"m":3,"x":1.5,"y":780,"l":720,"h":840},{"p":9,"m":3,"x":2.0,"y":780,"l":720,"h":840},{"p":9,"m":3,"x":2.45,"y":780,"l":720,"h":840},
{"p":9,"m":4,"x":0,"y":0,"l":0,"h":5},{"p":9,"m":4,"x":0.2,"y":100,"l":40,"h":160},{"p":9,"m":4,"x":0.3,"y":400,"l":250,"h":550},{"p":9,"m":4,"x":0.4,"y":650,"l":500,"h":800},{"p":9,"m":4,"x":0.5,"y":740,"l":640,"h":840},{"p":9,"m":4,"x":0.7,"y":780,"l":700,"h":860},{"p":9,"m":4,"x":1.0,"y":800,"l":740,"h":860},{"p":9,"m":4,"x":1.5,"y":800,"l":740,"h":860},{"p":9,"m":4,"x":2.0,"y":790,"l":730,"h":850},{"p":9,"m":4,"x":2.45,"y":790,"l":730,"h":850},
{"p":9,"m":5,"x":0,"y":0,"l":0,"h":5},{"p":9,"m":5,"x":0.3,"y":0,"l":0,"h":5},{"p":9,"m":5,"x":0.5,"y":100,"l":20,"h":180},{"p":9,"m":5,"x":0.7,"y":180,"l":60,"h":300},{"p":9,"m":5,"x":0.9,"y":300,"l":150,"h":450},{"p":9,"m":5,"x":1.0,"y":420,"l":240,"h":600},{"p":9,"m":5,"x":1.2,"y":380,"l":180,"h":580},{"p":9,"m":5,"x":1.3,"y":280,"l":80,"h":480},{"p":9,"m":5,"x":1.4,"y":450,"l":250,"h":650},{"p":9,"m":5,"x":1.6,"y":430,"l":230,"h":630},{"p":9,"m":5,"x":1.8,"y":520,"l":320,"h":720},{"p":9,"m":5,"x":2.0,"y":480,"l":280,"h":680},{"p":9,"m":5,"x":2.2,"y":550,"l":350,"h":750},{"p":9,"m":5,"x":2.3,"y":600,"l":420,"h":780},{"p":9,"m":5,"x":2.45,"y":490,"l":290,"h":690},
{"p":9,"m":6,"x":0,"y":0,"l":0,"h":5},{"p":9,"m":6,"x":0.1,"y":800,"l":770,"h":830},{"p":9,"m":6,"x":0.2,"y":830,"l":815,"h":845},{"p":9,"m":6,"x":1.0,"y":840,"l":830,"h":850},{"p":9,"m":6,"x":1.6,"y":840,"l":830,"h":850},{"p":9,"m":6,"x":1.65,"y":810,"l":800,"h":820},{"p":9,"m":6,"x":1.7,"y":840,"l":830,"h":850},{"p":9,"m":6,"x":2.45,"y":830,"l":820,"h":840},

{"p":10,"m":0,"x":0,"y":0,"l":0,"h":5},{"p":10,"m":0,"x":0.15,"y":50,"l":10,"h":90},{"p":10,"m":0,"x":0.3,"y":150,"l":70,"h":230},{"p":10,"m":0,"x":0.5,"y":300,"l":150,"h":450},{"p":10,"m":0,"x":0.7,"y":500,"l":350,"h":650},{"p":10,"m":0,"x":0.9,"y":580,"l":430,"h":730},{"p":10,"m":0,"x":1.1,"y":700,"l":550,"h":850},{"p":10,"m":0,"x":1.3,"y":730,"l":600,"h":860},{"p":10,"m":0,"x":1.5,"y":770,"l":650,"h":890},{"p":10,"m":0,"x":1.8,"y":800,"l":700,"h":900},{"p":10,"m":0,"x":2.1,"y":820,"l":720,"h":920},{"p":10,"m":0,"x":2.3,"y":780,"l":680,"h":880},{"p":10,"m":0,"x":2.45,"y":780,"l":680,"h":880},
{"p":10,"m":1,"x":0,"y":0,"l":0,"h":5},{"p":10,"m":1,"x":0.1,"y":300,"l":100,"h":500},{"p":10,"m":1,"x":0.2,"y":600,"l":400,"h":800},{"p":10,"m":1,"x":0.3,"y":700,"l":520,"h":880},{"p":10,"m":1,"x":0.5,"y":750,"l":600,"h":900},{"p":10,"m":1,"x":0.7,"y":840,"l":720,"h":960},{"p":10,"m":1,"x":0.9,"y":840,"l":740,"h":940},{"p":10,"m":1,"x":1.1,"y":820,"l":720,"h":920},{"p":10,"m":1,"x":1.3,"y":780,"l":660,"h":900},{"p":10,"m":1,"x":1.5,"y":810,"l":710,"h":910},{"p":10,"m":1,"x":1.8,"y":800,"l":700,"h":900},{"p":10,"m":1,"x":2.0,"y":810,"l":710,"h":910},{"p":10,"m":1,"x":2.3,"y":760,"l":660,"h":860},{"p":10,"m":1,"x":2.45,"y":800,"l":700,"h":900},
{"p":10,"m":2,"x":0,"y":0,"l":0,"h":5},{"p":10,"m":2,"x":0.2,"y":80,"l":20,"h":140},{"p":10,"m":2,"x":0.4,"y":200,"l":80,"h":320},{"p":10,"m":2,"x":0.6,"y":380,"l":230,"h":530},{"p":10,"m":2,"x":0.8,"y":530,"l":380,"h":680},{"p":10,"m":2,"x":1.0,"y":600,"l":450,"h":750},{"p":10,"m":2,"x":1.2,"y":650,"l":500,"h":800},{"p":10,"m":2,"x":1.4,"y":720,"l":570,"h":870},{"p":10,"m":2,"x":1.6,"y":740,"l":590,"h":890},{"p":10,"m":2,"x":1.8,"y":720,"l":570,"h":870},{"p":10,"m":2,"x":2.0,"y":680,"l":530,"h":830},{"p":10,"m":2,"x":2.2,"y":650,"l":500,"h":800},{"p":10,"m":2,"x":2.45,"y":620,"l":470,"h":770},
{"p":10,"m":3,"x":0,"y":0,"l":0,"h":5},{"p":10,"m":3,"x":0.1,"y":200,"l":100,"h":300},{"p":10,"m":3,"x":0.2,"y":250,"l":130,"h":370},{"p":10,"m":3,"x":0.4,"y":380,"l":230,"h":530},{"p":10,"m":3,"x":0.6,"y":480,"l":300,"h":660},{"p":10,"m":3,"x":0.8,"y":550,"l":370,"h":730},{"p":10,"m":3,"x":1.0,"y":600,"l":420,"h":780},{"p":10,"m":3,"x":1.2,"y":550,"l":370,"h":730},{"p":10,"m":3,"x":1.4,"y":640,"l":460,"h":820},{"p":10,"m":3,"x":1.6,"y":600,"l":420,"h":780},{"p":10,"m":3,"x":1.8,"y":650,"l":470,"h":830},{"p":10,"m":3,"x":2.0,"y":580,"l":400,"h":760},{"p":10,"m":3,"x":2.2,"y":650,"l":470,"h":830},{"p":10,"m":3,"x":2.45,"y":620,"l":440,"h":800},
{"p":10,"m":4,"x":0,"y":0,"l":0,"h":5},{"p":10,"m":4,"x":0.2,"y":80,"l":20,"h":140},{"p":10,"m":4,"x":0.4,"y":200,"l":80,"h":320},{"p":10,"m":4,"x":0.6,"y":370,"l":220,"h":520},{"p":10,"m":4,"x":0.8,"y":450,"l":270,"h":630},{"p":10,"m":4,"x":1.0,"y":560,"l":380,"h":740},{"p":10,"m":4,"x":1.2,"y":580,"l":400,"h":760},{"p":10,"m":4,"x":1.4,"y":560,"l":380,"h":740},{"p":10,"m":4,"x":1.6,"y":620,"l":440,"h":800},{"p":10,"m":4,"x":1.8,"y":600,"l":420,"h":780},{"p":10,"m":4,"x":2.0,"y":630,"l":450,"h":810},{"p":10,"m":4,"x":2.2,"y":500,"l":320,"h":680},{"p":10,"m":4,"x":2.3,"y":460,"l":280,"h":640},{"p":10,"m":4,"x":2.45,"y":450,"l":270,"h":630},
{"p":10,"m":5,"x":0,"y":0,"l":0,"h":5},{"p":10,"m":5,"x":0.2,"y":50,"l":10,"h":90},{"p":10,"m":5,"x":0.4,"y":100,"l":20,"h":180},{"p":10,"m":5,"x":0.6,"y":150,"l":50,"h":250},{"p":10,"m":5,"x":0.8,"y":120,"l":20,"h":220},{"p":10,"m":5,"x":1.0,"y":250,"l":100,"h":400},{"p":10,"m":5,"x":1.2,"y":270,"l":120,"h":420},{"p":10,"m":5,"x":1.4,"y":320,"l":170,"h":470},{"p":10,"m":5,"x":1.6,"y":330,"l":180,"h":480},{"p":10,"m":5,"x":1.8,"y":400,"l":250,"h":550},{"p":10,"m":5,"x":1.9,"y":450,"l":300,"h":600},{"p":10,"m":5,"x":2.0,"y":420,"l":270,"h":570},
{"p":10,"m":6,"x":0,"y":0,"l":0,"h":5},{"p":10,"m":6,"x":0.1,"y":250,"l":100,"h":400},{"p":10,"m":6,"x":0.2,"y":550,"l":400,"h":700},{"p":10,"m":6,"x":0.3,"y":600,"l":450,"h":750},{"p":10,"m":6,"x":0.4,"y":700,"l":580,"h":820},{"p":10,"m":6,"x":0.6,"y":820,"l":740,"h":900},{"p":10,"m":6,"x":0.8,"y":860,"l":800,"h":920},{"p":10,"m":6,"x":1.0,"y":880,"l":830,"h":930},{"p":10,"m":6,"x":1.2,"y":910,"l":870,"h":950},{"p":10,"m":6,"x":1.5,"y":900,"l":860,"h":940},{"p":10,"m":6,"x":2.0,"y":930,"l":900,"h":960},{"p":10,"m":6,"x":2.45,"y":940,"l":920,"h":960},

{"p":11,"m":0,"x":0,"y":100,"l":80,"h":120},{"p":11,"m":0,"x":0.2,"y":230,"l":150,"h":310},{"p":11,"m":0,"x":0.4,"y":250,"l":150,"h":350},{"p":11,"m":0,"x":0.6,"y":330,"l":230,"h":430},{"p":11,"m":0,"x":0.8,"y":400,"l":280,"h":520},{"p":11,"m":0,"x":1.0,"y":550,"l":430,"h":670},{"p":11,"m":0,"x":1.2,"y":560,"l":440,"h":680},{"p":11,"m":0,"x":1.4,"y":620,"l":500,"h":740},{"p":11,"m":0,"x":1.6,"y":680,"l":560,"h":800},{"p":11,"m":0,"x":1.8,"y":720,"l":600,"h":840},{"p":11,"m":0,"x":2.0,"y":680,"l":560,"h":800},{"p":11,"m":0,"x":2.2,"y":720,"l":600,"h":840},{"p":11,"m":0,"x":2.45,"y":780,"l":660,"h":900},
{"p":11,"m":1,"x":0,"y":100,"l":80,"h":120},{"p":11,"m":1,"x":0.2,"y":280,"l":200,"h":360},{"p":11,"m":1,"x":0.4,"y":300,"l":200,"h":400},{"p":11,"m":1,"x":0.6,"y":340,"l":240,"h":440},{"p":11,"m":1,"x":0.8,"y":400,"l":280,"h":520},{"p":11,"m":1,"x":1.0,"y":550,"l":430,"h":670},{"p":11,"m":1,"x":1.2,"y":580,"l":460,"h":700},{"p":11,"m":1,"x":1.4,"y":600,"l":480,"h":720},{"p":11,"m":1,"x":1.6,"y":620,"l":500,"h":740},{"p":11,"m":1,"x":1.8,"y":650,"l":530,"h":770},{"p":11,"m":1,"x":2.0,"y":690,"l":570,"h":810},{"p":11,"m":1,"x":2.2,"y":720,"l":600,"h":840},{"p":11,"m":1,"x":2.45,"y":610,"l":490,"h":730},
{"p":11,"m":2,"x":0,"y":110,"l":90,"h":130},{"p":11,"m":2,"x":0.2,"y":200,"l":150,"h":250},{"p":11,"m":2,"x":0.4,"y":200,"l":150,"h":250},{"p":11,"m":2,"x":0.6,"y":180,"l":120,"h":240},{"p":11,"m":2,"x":0.8,"y":200,"l":140,"h":260},{"p":11,"m":2,"x":1.0,"y":170,"l":110,"h":230},{"p":11,"m":2,"x":1.2,"y":200,"l":140,"h":260},{"p":11,"m":2,"x":1.4,"y":200,"l":140,"h":260},{"p":11,"m":2,"x":1.6,"y":240,"l":180,"h":300},{"p":11,"m":2,"x":1.8,"y":210,"l":150,"h":270},{"p":11,"m":2,"x":2.0,"y":200,"l":140,"h":260},{"p":11,"m":2,"x":2.3,"y":300,"l":230,"h":370},{"p":11,"m":2,"x":2.45,"y":170,"l":110,"h":230},
{"p":11,"m":3,"x":0,"y":100,"l":80,"h":120},{"p":11,"m":3,"x":0.2,"y":290,"l":210,"h":370},{"p":11,"m":3,"x":0.4,"y":330,"l":230,"h":430},{"p":11,"m":3,"x":0.6,"y":380,"l":280,"h":480},{"p":11,"m":3,"x":0.8,"y":450,"l":330,"h":570},{"p":11,"m":3,"x":1.0,"y":570,"l":450,"h":690},{"p":11,"m":3,"x":1.2,"y":590,"l":470,"h":710},{"p":11,"m":3,"x":1.4,"y":620,"l":500,"h":740},{"p":11,"m":3,"x":1.6,"y":660,"l":540,"h":780},{"p":11,"m":3,"x":1.8,"y":720,"l":600,"h":840},{"p":11,"m":3,"x":2.0,"y":730,"l":610,"h":850},{"p":11,"m":3,"x":2.3,"y":800,"l":700,"h":900},{"p":11,"m":3,"x":2.45,"y":730,"l":610,"h":850},
{"p":11,"m":4,"x":0,"y":100,"l":80,"h":120},{"p":11,"m":4,"x":0.2,"y":250,"l":170,"h":330},{"p":11,"m":4,"x":0.4,"y":320,"l":220,"h":420},{"p":11,"m":4,"x":0.6,"y":380,"l":280,"h":480},{"p":11,"m":4,"x":0.8,"y":450,"l":330,"h":570},{"p":11,"m":4,"x":1.0,"y":600,"l":480,"h":720},{"p":11,"m":4,"x":1.2,"y":620,"l":500,"h":740},{"p":11,"m":4,"x":1.4,"y":650,"l":530,"h":770},{"p":11,"m":4,"x":1.6,"y":680,"l":560,"h":800},{"p":11,"m":4,"x":1.8,"y":700,"l":580,"h":820},{"p":11,"m":4,"x":2.0,"y":720,"l":600,"h":840},{"p":11,"m":4,"x":2.3,"y":820,"l":720,"h":920},{"p":11,"m":4,"x":2.45,"y":680,"l":560,"h":800},
{"p":11,"m":5,"x":0,"y":100,"l":80,"h":120},{"p":11,"m":5,"x":0.2,"y":250,"l":170,"h":330},{"p":11,"m":5,"x":0.4,"y":230,"l":150,"h":310},{"p":11,"m":5,"x":0.6,"y":180,"l":100,"h":260},{"p":11,"m":5,"x":0.8,"y":220,"l":140,"h":300},{"p":11,"m":5,"x":1.0,"y":200,"l":120,"h":280},{"p":11,"m":5,"x":1.2,"y":250,"l":170,"h":330},{"p":11,"m":5,"x":1.4,"y":200,"l":120,"h":280},{"p":11,"m":5,"x":1.6,"y":300,"l":220,"h":380},{"p":11,"m":5,"x":1.8,"y":230,"l":150,"h":310},{"p":11,"m":5,"x":2.0,"y":240,"l":160,"h":320},{"p":11,"m":5,"x":2.1,"y":200,"l":120,"h":280},
{"p":11,"m":6,"x":0,"y":100,"l":80,"h":120},{"p":11,"m":6,"x":0.2,"y":400,"l":320,"h":480},{"p":11,"m":6,"x":0.4,"y":650,"l":570,"h":730},{"p":11,"m":6,"x":0.6,"y":900,"l":860,"h":940},{"p":11,"m":6,"x":0.8,"y":940,"l":910,"h":970},{"p":11,"m":6,"x":1.0,"y":940,"l":910,"h":970},{"p":11,"m":6,"x":1.5,"y":940,"l":915,"h":965},{"p":11,"m":6,"x":2.0,"y":940,"l":915,"h":965},{"p":11,"m":6,"x":2.45,"y":950,"l":925,"h":975},

{"p":12,"m":0,"x":0,"y":0,"l":0,"h":5},{"p":12,"m":0,"x":0.2,"y":220,"l":190,"h":250},{"p":12,"m":0,"x":0.4,"y":420,"l":390,"h":450},{"p":12,"m":0,"x":0.6,"y":520,"l":495,"h":545},{"p":12,"m":0,"x":0.8,"y":570,"l":550,"h":590},{"p":12,"m":0,"x":1.0,"y":600,"l":580,"h":620},{"p":12,"m":0,"x":1.5,"y":650,"l":630,"h":670},{"p":12,"m":0,"x":2.0,"y":670,"l":650,"h":690},{"p":12,"m":0,"x":2.45,"y":680,"l":660,"h":700},
{"p":12,"m":1,"x":0,"y":0,"l":0,"h":5},{"p":12,"m":1,"x":0.1,"y":480,"l":430,"h":530},{"p":12,"m":1,"x":0.2,"y":600,"l":560,"h":640},{"p":12,"m":1,"x":0.4,"y":620,"l":580,"h":660},{"p":12,"m":1,"x":0.5,"y":580,"l":520,"h":640},{"p":12,"m":1,"x":0.7,"y":560,"l":480,"h":640},{"p":12,"m":1,"x":0.8,"y":500,"l":400,"h":600},{"p":12,"m":1,"x":0.9,"y":350,"l":230,"h":470},{"p":12,"m":1,"x":1.0,"y":200,"l":80,"h":320},{"p":12,"m":1,"x":1.1,"y":120,"l":20,"h":220},{"p":12,"m":1,"x":1.25,"y":200,"l":80,"h":320},{"p":12,"m":1,"x":1.4,"y":250,"l":130,"h":370},{"p":12,"m":1,"x":1.6,"y":350,"l":250,"h":450},{"p":12,"m":1,"x":1.8,"y":400,"l":320,"h":480},{"p":12,"m":1,"x":2.0,"y":420,"l":350,"h":490},{"p":12,"m":1,"x":2.1,"y":450,"l":380,"h":520},{"p":12,"m":1,"x":2.3,"y":400,"l":330,"h":470},{"p":12,"m":1,"x":2.45,"y":380,"l":310,"h":450},
{"p":12,"m":2,"x":0,"y":0,"l":0,"h":5},{"p":12,"m":2,"x":0.2,"y":50,"l":20,"h":80},{"p":12,"m":2,"x":0.4,"y":80,"l":40,"h":120},{"p":12,"m":2,"x":0.6,"y":100,"l":60,"h":140},{"p":12,"m":2,"x":1.0,"y":120,"l":80,"h":160},{"p":12,"m":2,"x":1.3,"y":100,"l":60,"h":140},{"p":12,"m":2,"x":1.6,"y":110,"l":70,"h":150},{"p":12,"m":2,"x":2.0,"y":90,"l":50,"h":130},{"p":12,"m":2,"x":2.45,"y":100,"l":60,"h":140},
{"p":12,"m":3,"x":0,"y":0,"l":0,"h":5},{"p":12,"m":3,"x":0.1,"y":300,"l":260,"h":340},{"p":12,"m":3,"x":0.2,"y":500,"l":470,"h":530},{"p":12,"m":3,"x":0.4,"y":620,"l":595,"h":645},{"p":12,"m":3,"x":0.7,"y":650,"l":630,"h":670},{"p":12,"m":3,"x":1.0,"y":690,"l":670,"h":710},{"p":12,"m":3,"x":1.5,"y":720,"l":700,"h":740},{"p":12,"m":3,"x":2.0,"y":730,"l":710,"h":750},{"p":12,"m":3,"x":2.3,"y":720,"l":700,"h":740},
{"p":12,"m":4,"x":0,"y":0,"l":0,"h":5},{"p":12,"m":4,"x":0.2,"y":150,"l":120,"h":180},{"p":12,"m":4,"x":0.4,"y":250,"l":210,"h":290},{"p":12,"m":4,"x":0.6,"y":300,"l":260,"h":340},{"p":12,"m":4,"x":0.8,"y":350,"l":310,"h":390},{"p":12,"m":4,"x":1.0,"y":380,"l":340,"h":420},{"p":12,"m":4,"x":1.5,"y":410,"l":370,"h":450},{"p":12,"m":4,"x":2.0,"y":430,"l":390,"h":470},{"p":12,"m":4,"x":2.45,"y":450,"l":410,"h":490},
{"p":12,"m":5,"x":0,"y":0,"l":0,"h":5},{"p":12,"m":5,"x":0.2,"y":250,"l":210,"h":290},{"p":12,"m":5,"x":0.4,"y":450,"l":410,"h":490},{"p":12,"m":5,"x":0.6,"y":550,"l":520,"h":580},{"p":12,"m":5,"x":0.8,"y":600,"l":575,"h":625},{"p":12,"m":5,"x":1.0,"y":630,"l":610,"h":650},{"p":12,"m":5,"x":1.5,"y":680,"l":660,"h":700},{"p":12,"m":5,"x":2.0,"y":700,"l":680,"h":720},{"p":12,"m":5,"x":2.45,"y":710,"l":690,"h":730},
{"p":12,"m":6,"x":0,"y":0,"l":0,"h":5},{"p":12,"m":6,"x":0.1,"y":500,"l":470,"h":530},{"p":12,"m":6,"x":0.2,"y":620,"l":600,"h":640},{"p":12,"m":6,"x":0.4,"y":680,"l":665,"h":695},{"p":12,"m":6,"x":0.7,"y":700,"l":685,"h":715},{"p":12,"m":6,"x":1.0,"y":720,"l":705,"h":735},{"p":12,"m":6,"x":1.5,"y":750,"l":735,"h":765},{"p":12,"m":6,"x":2.0,"y":770,"l":755,"h":785},{"p":12,"m":6,"x":2.45,"y":780,"l":765,"h":795},

{"p":13,"m":0,"x":0,"y":0,"l":0,"h":5},{"p":13,"m":0,"x":0.2,"y":380,"l":340,"h":420},{"p":13,"m":0,"x":0.4,"y":500,"l":460,"h":540},{"p":13,"m":0,"x":0.7,"y":560,"l":530,"h":590},{"p":13,"m":0,"x":1.0,"y":580,"l":550,"h":610},{"p":13,"m":0,"x":1.3,"y":570,"l":540,"h":600},{"p":13,"m":0,"x":1.6,"y":600,"l":570,"h":630},{"p":13,"m":0,"x":2.0,"y":610,"l":580,"h":640},{"p":13,"m":0,"x":2.45,"y":640,"l":610,"h":670},
{"p":13,"m":1,"x":0,"y":0,"l":0,"h":5},{"p":13,"m":1,"x":0.1,"y":520,"l":480,"h":560},{"p":13,"m":1,"x":0.3,"y":570,"l":530,"h":610},{"p":13,"m":1,"x":0.6,"y":620,"l":580,"h":660},{"p":13,"m":1,"x":0.9,"y":650,"l":610,"h":690},{"p":13,"m":1,"x":1.2,"y":620,"l":580,"h":660},{"p":13,"m":1,"x":1.5,"y":650,"l":610,"h":690},{"p":13,"m":1,"x":1.8,"y":660,"l":620,"h":700},{"p":13,"m":1,"x":2.0,"y":640,"l":600,"h":680},{"p":13,"m":1,"x":2.2,"y":680,"l":640,"h":720},{"p":13,"m":1,"x":2.45,"y":680,"l":640,"h":720},
{"p":13,"m":2,"x":0,"y":0,"l":0,"h":5},{"p":13,"m":2,"x":0.05,"y":220,"l":160,"h":280},{"p":13,"m":2,"x":0.2,"y":240,"l":180,"h":300},{"p":13,"m":2,"x":0.5,"y":270,"l":210,"h":330},{"p":13,"m":2,"x":0.7,"y":240,"l":180,"h":300},{"p":13,"m":2,"x":1.0,"y":260,"l":200,"h":320},{"p":13,"m":2,"x":1.3,"y":240,"l":180,"h":300},{"p":13,"m":2,"x":1.6,"y":230,"l":170,"h":290},{"p":13,"m":2,"x":1.8,"y":200,"l":140,"h":260},{"p":13,"m":2,"x":2.0,"y":140,"l":80,"h":200},{"p":13,"m":2,"x":2.1,"y":140,"l":80,"h":200},
{"p":13,"m":3,"x":0,"y":0,"l":0,"h":5},{"p":13,"m":3,"x":0.1,"y":450,"l":410,"h":490},{"p":13,"m":3,"x":0.2,"y":450,"l":420,"h":480},{"p":13,"m":3,"x":0.5,"y":480,"l":450,"h":510},{"p":13,"m":3,"x":0.8,"y":510,"l":480,"h":540},{"p":13,"m":3,"x":1.0,"y":520,"l":490,"h":550},{"p":13,"m":3,"x":1.3,"y":560,"l":530,"h":590},{"p":13,"m":3,"x":1.6,"y":580,"l":550,"h":610},{"p":13,"m":3,"x":2.0,"y":610,"l":580,"h":640},{"p":13,"m":3,"x":2.2,"y":620,"l":590,"h":650},
{"p":13,"m":4,"x":0,"y":0,"l":0,"h":5},{"p":13,"m":4,"x":0.2,"y":300,"l":260,"h":340},{"p":13,"m":4,"x":0.4,"y":420,"l":380,"h":460},{"p":13,"m":4,"x":0.6,"y":450,"l":410,"h":490},{"p":13,"m":4,"x":0.8,"y":460,"l":420,"h":500},{"p":13,"m":4,"x":1.0,"y":500,"l":460,"h":540},{"p":13,"m":4,"x":1.2,"y":480,"l":440,"h":520},{"p":13,"m":4,"x":1.5,"y":500,"l":460,"h":540},{"p":13,"m":4,"x":2.0,"y":500,"l":460,"h":540},{"p":13,"m":4,"x":2.2,"y":540,"l":500,"h":580},{"p":13,"m":4,"x":2.45,"y":480,"l":440,"h":520},
{"p":13,"m":5,"x":0,"y":0,"l":0,"h":5},{"p":13,"m":5,"x":0.1,"y":300,"l":240,"h":360},{"p":13,"m":5,"x":0.3,"y":450,"l":390,"h":510},{"p":13,"m":5,"x":0.5,"y":530,"l":470,"h":590},{"p":13,"m":5,"x":0.7,"y":550,"l":490,"h":610},{"p":13,"m":5,"x":1.0,"y":530,"l":450,"h":610},{"p":13,"m":5,"x":1.2,"y":500,"l":400,"h":600},{"p":13,"m":5,"x":1.4,"y":520,"l":400,"h":640},{"p":13,"m":5,"x":1.6,"y":420,"l":270,"h":570},{"p":13,"m":5,"x":1.8,"y":340,"l":190,"h":490},{"p":13,"m":5,"x":1.9,"y":300,"l":150,"h":450},{"p":13,"m":5,"x":2.05,"y":180,"l":30,"h":330},
{"p":13,"m":6,"x":0,"y":0,"l":0,"h":5},{"p":13,"m":6,"x":0.05,"y":400,"l":370,"h":430},{"p":13,"m":6,"x":0.1,"y":550,"l":530,"h":570},{"p":13,"m":6,"x":0.3,"y":620,"l":600,"h":640},{"p":13,"m":6,"x":0.6,"y":670,"l":650,"h":690},{"p":13,"m":6,"x":0.9,"y":710,"l":690,"h":730},{"p":13,"m":6,"x":1.15,"y":720,"l":700,"h":740},{"p":13,"m":6,"x":1.2,"y":680,"l":650,"h":710},{"p":13,"m":6,"x":1.3,"y":750,"l":730,"h":770},{"p":13,"m":6,"x":1.6,"y":790,"l":775,"h":805},{"p":13,"m":6,"x":2.0,"y":830,"l":815,"h":845},{"p":13,"m":6,"x":2.2,"y":860,"l":845,"h":875},

{"p":14,"m":0,"x":0,"y":0,"l":0,"h":5},{"p":14,"m":0,"x":0.6,"y":0,"l":0,"h":5},{"p":14,"m":0,"x":0.7,"y":30,"l":0,"h":60},{"p":14,"m":0,"x":1.0,"y":40,"l":0,"h":100},{"p":14,"m":0,"x":1.3,"y":80,"l":0,"h":180},{"p":14,"m":0,"x":1.5,"y":130,"l":10,"h":250},{"p":14,"m":0,"x":1.7,"y":190,"l":40,"h":340},{"p":14,"m":0,"x":2.0,"y":210,"l":60,"h":360},{"p":14,"m":0,"x":2.45,"y":210,"l":60,"h":360},
{"p":14,"m":1,"x":0,"y":0,"l":0,"h":5},{"p":14,"m":1,"x":0.4,"y":0,"l":0,"h":5},{"p":14,"m":1,"x":0.45,"y":150,"l":0,"h":300},{"p":14,"m":1,"x":0.7,"y":150,"l":0,"h":300},{"p":14,"m":1,"x":0.9,"y":280,"l":130,"h":430},{"p":14,"m":1,"x":1.0,"y":300,"l":150,"h":450},{"p":14,"m":1,"x":1.3,"y":290,"l":140,"h":440},{"p":14,"m":1,"x":1.5,"y":330,"l":180,"h":480},{"p":14,"m":1,"x":1.8,"y":340,"l":190,"h":490},{"p":14,"m":1,"x":2.0,"y":370,"l":220,"h":520},{"p":14,"m":1,"x":2.3,"y":370,"l":240,"h":500},{"p":14,"m":1,"x":2.45,"y":370,"l":240,"h":500},
{"p":14,"m":2,"x":0,"y":0,"l":0,"h":5},{"p":14,"m":2,"x":1.0,"y":10,"l":0,"h":20},{"p":14,"m":2,"x":1.25,"y":30,"l":0,"h":60},{"p":14,"m":2,"x":1.35,"y":180,"l":30,"h":330},{"p":14,"m":2,"x":1.6,"y":200,"l":50,"h":350},{"p":14,"m":2,"x":1.9,"y":250,"l":100,"h":400},{"p":14,"m":2,"x":2.05,"y":270,"l":120,"h":420},{"p":14,"m":2,"x":2.1,"y":200,"l":50,"h":350},{"p":14,"m":2,"x":2.3,"y":230,"l":80,"h":380},{"p":14,"m":2,"x":2.4,"y":180,"l":30,"h":330},
{"p":14,"m":3,"x":0,"y":0,"l":0,"h":5},{"p":14,"m":3,"x":0.5,"y":0,"l":0,"h":5},{"p":14,"m":3,"x":0.55,"y":150,"l":0,"h":300},{"p":14,"m":3,"x":0.7,"y":300,"l":100,"h":500},{"p":14,"m":3,"x":0.9,"y":500,"l":300,"h":700},{"p":14,"m":3,"x":1.0,"y":600,"l":400,"h":800},{"p":14,"m":3,"x":1.2,"y":630,"l":450,"h":810},{"p":14,"m":3,"x":1.4,"y":650,"l":470,"h":830},{"p":14,"m":3,"x":1.6,"y":700,"l":550,"h":850},{"p":14,"m":3,"x":1.8,"y":720,"l":570,"h":870},{"p":14,"m":3,"x":2.0,"y":770,"l":670,"h":870},{"p":14,"m":3,"x":2.2,"y":780,"l":700,"h":860},
{"p":14,"m":4,"x":0,"y":0,"l":0,"h":5},{"p":14,"m":4,"x":0.35,"y":0,"l":0,"h":5},{"p":14,"m":4,"x":0.45,"y":200,"l":0,"h":400},{"p":14,"m":4,"x":0.55,"y":500,"l":250,"h":750},{"p":14,"m":4,"x":0.7,"y":700,"l":500,"h":900},{"p":14,"m":4,"x":0.9,"y":760,"l":610,"h":910},{"p":14,"m":4,"x":1.2,"y":790,"l":690,"h":890},{"p":14,"m":4,"x":1.5,"y":800,"l":720,"h":880},{"p":14,"m":4,"x":1.8,"y":810,"l":750,"h":870},{"p":14,"m":4,"x":2.0,"y":820,"l":770,"h":870},{"p":14,"m":4,"x":2.45,"y":820,"l":780,"h":860},
{"p":14,"m":5,"x":0,"y":0,"l":0,"h":5},{"p":14,"m":5,"x":0.4,"y":0,"l":0,"h":5},{"p":14,"m":5,"x":0.6,"y":100,"l":0,"h":200},{"p":14,"m":5,"x":0.8,"y":200,"l":50,"h":350},{"p":14,"m":5,"x":1.0,"y":250,"l":50,"h":450},{"p":14,"m":5,"x":1.1,"y":280,"l":80,"h":480},{"p":14,"m":5,"x":1.3,"y":300,"l":100,"h":500},{"p":14,"m":5,"x":1.5,"y":400,"l":200,"h":600},{"p":14,"m":5,"x":1.7,"y":510,"l":310,"h":710},{"p":14,"m":5,"x":1.9,"y":500,"l":300,"h":700},{"p":14,"m":5,"x":2.1,"y":540,"l":340,"h":740},{"p":14,"m":5,"x":2.35,"y":680,"l":530,"h":830},{"p":14,"m":5,"x":2.45,"y":620,"l":470,"h":770},
{"p":14,"m":6,"x":0,"y":0,"l":0,"h":5},{"p":14,"m":6,"x":0.2,"y":0,"l":0,"h":5},{"p":14,"m":6,"x":0.3,"y":300,"l":100,"h":500},{"p":14,"m":6,"x":0.45,"y":600,"l":350,"h":850},{"p":14,"m":6,"x":0.55,"y":770,"l":670,"h":870},{"p":14,"m":6,"x":0.7,"y":780,"l":700,"h":860},{"p":14,"m":6,"x":0.8,"y":760,"l":700,"h":820},{"p":14,"m":6,"x":1.0,"y":800,"l":760,"h":840},{"p":14,"m":6,"x":1.2,"y":820,"l":790,"h":850},{"p":14,"m":6,"x":1.5,"y":830,"l":800,"h":860},{"p":14,"m":6,"x":2.0,"y":830,"l":800,"h":860},{"p":14,"m":6,"x":2.45,"y":830,"l":800,"h":860},

{"p":15,"m":0,"x":0,"y":110,"l":90,"h":130},{"p":15,"m":0,"x":0.2,"y":250,"l":190,"h":310},{"p":15,"m":0,"x":0.4,"y":380,"l":320,"h":440},{"p":15,"m":0,"x":0.6,"y":360,"l":310,"h":410},{"p":15,"m":0,"x":1.0,"y":370,"l":320,"h":420},{"p":15,"m":0,"x":1.5,"y":360,"l":310,"h":410},{"p":15,"m":0,"x":2.0,"y":370,"l":320,"h":420},{"p":15,"m":0,"x":2.45,"y":390,"l":340,"h":440},
{"p":15,"m":1,"x":0,"y":110,"l":90,"h":130},{"p":15,"m":1,"x":0.2,"y":280,"l":230,"h":330},{"p":15,"m":1,"x":0.4,"y":400,"l":350,"h":450},{"p":15,"m":1,"x":0.7,"y":420,"l":380,"h":460},{"p":15,"m":1,"x":1.0,"y":410,"l":370,"h":450},{"p":15,"m":1,"x":1.5,"y":430,"l":390,"h":470},{"p":15,"m":1,"x":2.0,"y":410,"l":370,"h":450},{"p":15,"m":1,"x":2.3,"y":380,"l":340,"h":420},{"p":15,"m":1,"x":2.45,"y":430,"l":390,"h":470},
{"p":15,"m":2,"x":0,"y":120,"l":100,"h":140},{"p":15,"m":2,"x":0.2,"y":170,"l":130,"h":210},{"p":15,"m":2,"x":0.4,"y":230,"l":190,"h":270},{"p":15,"m":2,"x":0.6,"y":230,"l":190,"h":270},{"p":15,"m":2,"x":0.8,"y":220,"l":180,"h":260},{"p":15,"m":2,"x":1.0,"y":240,"l":200,"h":280},{"p":15,"m":2,"x":1.2,"y":190,"l":150,"h":230},{"p":15,"m":2,"x":1.5,"y":200,"l":160,"h":240},{"p":15,"m":2,"x":1.8,"y":150,"l":110,"h":190},{"p":15,"m":2,"x":2.0,"y":180,"l":140,"h":220},{"p":15,"m":2,"x":2.2,"y":160,"l":120,"h":200},
{"p":15,"m":3,"x":0,"y":110,"l":90,"h":130},{"p":15,"m":3,"x":0.2,"y":300,"l":250,"h":350},{"p":15,"m":3,"x":0.4,"y":410,"l":370,"h":450},{"p":15,"m":3,"x":0.7,"y":420,"l":380,"h":460},{"p":15,"m":3,"x":1.0,"y":420,"l":380,"h":460},{"p":15,"m":3,"x":1.5,"y":430,"l":390,"h":470},{"p":15,"m":3,"x":2.0,"y":440,"l":400,"h":480},{"p":15,"m":3,"x":2.45,"y":430,"l":390,"h":470},
{"p":15,"m":4,"x":0,"y":110,"l":90,"h":130},{"p":15,"m":4,"x":0.2,"y":280,"l":230,"h":330},{"p":15,"m":4,"x":0.4,"y":420,"l":380,"h":460},{"p":15,"m":4,"x":0.6,"y":440,"l":400,"h":480},{"p":15,"m":4,"x":1.0,"y":450,"l":410,"h":490},{"p":15,"m":4,"x":1.5,"y":440,"l":400,"h":480},{"p":15,"m":4,"x":2.0,"y":450,"l":410,"h":490},{"p":15,"m":4,"x":2.45,"y":440,"l":400,"h":480},
{"p":15,"m":5,"x":0,"y":120,"l":100,"h":140},{"p":15,"m":5,"x":0.2,"y":250,"l":200,"h":300},{"p":15,"m":5,"x":0.4,"y":400,"l":350,"h":450},{"p":15,"m":5,"x":0.6,"y":420,"l":380,"h":460},{"p":15,"m":5,"x":0.8,"y":450,"l":410,"h":490},{"p":15,"m":5,"x":1.0,"y":470,"l":430,"h":510},{"p":15,"m":5,"x":1.2,"y":480,"l":440,"h":520},{"p":15,"m":5,"x":1.4,"y":500,"l":460,"h":540},{"p":15,"m":5,"x":1.6,"y":500,"l":460,"h":540},{"p":15,"m":5,"x":1.8,"y":480,"l":440,"h":520},{"p":15,"m":5,"x":1.9,"y":540,"l":500,"h":580},{"p":15,"m":5,"x":2.05,"y":580,"l":540,"h":620},
{"p":15,"m":6,"x":0,"y":120,"l":100,"h":140},{"p":15,"m":6,"x":0.1,"y":250,"l":210,"h":290},{"p":15,"m":6,"x":0.2,"y":420,"l":380,"h":460},{"p":15,"m":6,"x":0.3,"y":500,"l":460,"h":540},{"p":15,"m":6,"x":0.5,"y":600,"l":560,"h":640},{"p":15,"m":6,"x":0.7,"y":680,"l":650,"h":710},{"p":15,"m":6,"x":1.0,"y":750,"l":720,"h":780},{"p":15,"m":6,"x":1.3,"y":790,"l":765,"h":815},{"p":15,"m":6,"x":1.6,"y":820,"l":795,"h":845},{"p":15,"m":6,"x":2.0,"y":850,"l":825,"h":875},{"p":15,"m":6,"x":2.3,"y":850,"l":825,"h":875},{"p":15,"m":6,"x":2.4,"y":800,"l":740,"h":860},

{"p":16,"m":0,"x":0,"y":30,"l":10,"h":50},{"p":16,"m":0,"x":0.2,"y":100,"l":40,"h":160},{"p":16,"m":0,"x":0.5,"y":200,"l":100,"h":300},{"p":16,"m":0,"x":0.8,"y":250,"l":130,"h":370},{"p":16,"m":0,"x":1.0,"y":280,"l":160,"h":400},{"p":16,"m":0,"x":1.3,"y":330,"l":210,"h":450},{"p":16,"m":0,"x":1.5,"y":350,"l":220,"h":480},{"p":16,"m":0,"x":1.8,"y":380,"l":250,"h":510},{"p":16,"m":0,"x":2.0,"y":400,"l":270,"h":530},{"p":16,"m":0,"x":2.3,"y":500,"l":370,"h":630},{"p":16,"m":0,"x":2.45,"y":420,"l":290,"h":550},
{"p":16,"m":1,"x":0,"y":30,"l":10,"h":50},{"p":16,"m":1,"x":0.2,"y":130,"l":70,"h":190},{"p":16,"m":1,"x":0.5,"y":200,"l":100,"h":300},{"p":16,"m":1,"x":0.8,"y":230,"l":110,"h":350},{"p":16,"m":1,"x":1.0,"y":260,"l":140,"h":380},{"p":16,"m":1,"x":1.3,"y":330,"l":210,"h":450},{"p":16,"m":1,"x":1.5,"y":380,"l":250,"h":510},{"p":16,"m":1,"x":1.8,"y":350,"l":220,"h":480},{"p":16,"m":1,"x":2.0,"y":400,"l":270,"h":530},{"p":16,"m":1,"x":2.3,"y":490,"l":360,"h":620},{"p":16,"m":1,"x":2.45,"y":380,"l":250,"h":510},
{"p":16,"m":2,"x":0,"y":10,"l":0,"h":20},{"p":16,"m":2,"x":0.2,"y":80,"l":40,"h":120},{"p":16,"m":2,"x":0.4,"y":60,"l":20,"h":100},{"p":16,"m":2,"x":0.6,"y":90,"l":50,"h":130},{"p":16,"m":2,"x":0.8,"y":70,"l":30,"h":110},{"p":16,"m":2,"x":1.0,"y":50,"l":10,"h":90},{"p":16,"m":2,"x":1.2,"y":80,"l":40,"h":120},{"p":16,"m":2,"x":1.4,"y":60,"l":20,"h":100},{"p":16,"m":2,"x":1.6,"y":70,"l":30,"h":110},{"p":16,"m":2,"x":1.8,"y":100,"l":60,"h":140},{"p":16,"m":2,"x":2.0,"y":60,"l":20,"h":100},{"p":16,"m":2,"x":2.2,"y":50,"l":10,"h":90},{"p":16,"m":2,"x":2.35,"y":130,"l":80,"h":180},{"p":16,"m":2,"x":2.45,"y":40,"l":0,"h":80},
{"p":16,"m":3,"x":0,"y":30,"l":10,"h":50},{"p":16,"m":3,"x":0.2,"y":150,"l":70,"h":230},{"p":16,"m":3,"x":0.5,"y":250,"l":130,"h":370},{"p":16,"m":3,"x":0.8,"y":320,"l":170,"h":470},{"p":16,"m":3,"x":1.0,"y":350,"l":200,"h":500},{"p":16,"m":3,"x":1.2,"y":420,"l":270,"h":570},{"p":16,"m":3,"x":1.5,"y":450,"l":300,"h":600},{"p":16,"m":3,"x":1.8,"y":500,"l":350,"h":650},{"p":16,"m":3,"x":2.0,"y":570,"l":420,"h":720},{"p":16,"m":3,"x":2.2,"y":580,"l":430,"h":730},{"p":16,"m":3,"x":2.35,"y":720,"l":570,"h":870},{"p":16,"m":3,"x":2.45,"y":500,"l":350,"h":650},
{"p":16,"m":4,"x":0,"y":30,"l":10,"h":50},{"p":16,"m":4,"x":0.2,"y":130,"l":70,"h":190},{"p":16,"m":4,"x":0.5,"y":230,"l":130,"h":330},{"p":16,"m":4,"x":0.8,"y":250,"l":130,"h":370},{"p":16,"m":4,"x":1.0,"y":300,"l":180,"h":420},{"p":16,"m":4,"x":1.3,"y":350,"l":230,"h":470},{"p":16,"m":4,"x":1.5,"y":430,"l":300,"h":560},{"p":16,"m":4,"x":1.8,"y":450,"l":320,"h":580},{"p":16,"m":4,"x":2.0,"y":550,"l":420,"h":680},{"p":16,"m":4,"x":2.3,"y":650,"l":520,"h":780},{"p":16,"m":4,"x":2.45,"y":550,"l":420,"h":680},
{"p":16,"m":5,"x":0,"y":30,"l":10,"h":50},{"p":16,"m":5,"x":0.2,"y":100,"l":40,"h":160},{"p":16,"m":5,"x":0.4,"y":180,"l":100,"h":260},{"p":16,"m":5,"x":0.6,"y":180,"l":100,"h":260},{"p":16,"m":5,"x":0.8,"y":200,"l":120,"h":280},{"p":16,"m":5,"x":1.0,"y":180,"l":100,"h":260},{"p":16,"m":5,"x":1.2,"y":160,"l":80,"h":240},{"p":16,"m":5,"x":1.4,"y":170,"l":90,"h":250},{"p":16,"m":5,"x":1.6,"y":210,"l":130,"h":290},{"p":16,"m":5,"x":1.8,"y":200,"l":100,"h":300},{"p":16,"m":5,"x":2.0,"y":230,"l":110,"h":350},{"p":16,"m":5,"x":2.15,"y":250,"l":130,"h":370},
{"p":16,"m":6,"x":0,"y":0,"l":0,"h":10},{"p":16,"m":6,"x":0.1,"y":150,"l":100,"h":200},{"p":16,"m":6,"x":0.2,"y":200,"l":140,"h":260},{"p":16,"m":6,"x":0.3,"y":400,"l":320,"h":480},{"p":16,"m":6,"x":0.45,"y":450,"l":370,"h":530},{"p":16,"m":6,"x":0.6,"y":730,"l":670,"h":790},{"p":16,"m":6,"x":0.8,"y":780,"l":720,"h":840},{"p":16,"m":6,"x":1.0,"y":840,"l":800,"h":880},{"p":16,"m":6,"x":1.2,"y":850,"l":810,"h":890},{"p":16,"m":6,"x":1.5,"y":870,"l":830,"h":910},{"p":16,"m":6,"x":1.8,"y":860,"l":820,"h":900},{"p":16,"m":6,"x":2.0,"y":900,"l":870,"h":930},{"p":16,"m":6,"x":2.3,"y":920,"l":890,"h":950},{"p":16,"m":6,"x":2.45,"y":930,"l":900,"h":960},

{"p":17,"m":0,"x":0,"y":0,"l":0,"h":5},{"p":17,"m":0,"x":0.4,"y":20,"l":0,"h":40},{"p":17,"m":0,"x":0.6,"y":40,"l":0,"h":80},{"p":17,"m":0,"x":1.0,"y":60,"l":0,"h":120},{"p":17,"m":0,"x":1.5,"y":70,"l":0,"h":140},{"p":17,"m":0,"x":2.0,"y":100,"l":20,"h":180},{"p":17,"m":0,"x":2.45,"y":110,"l":30,"h":190},
{"p":17,"m":1,"x":0,"y":0,"l":0,"h":5},{"p":17,"m":1,"x":0.2,"y":50,"l":20,"h":80},{"p":17,"m":1,"x":0.35,"y":250,"l":130,"h":370},{"p":17,"m":1,"x":0.5,"y":330,"l":180,"h":480},{"p":17,"m":1,"x":0.7,"y":360,"l":210,"h":510},{"p":17,"m":1,"x":0.9,"y":400,"l":250,"h":550},{"p":17,"m":1,"x":1.1,"y":430,"l":260,"h":600},{"p":17,"m":1,"x":1.3,"y":440,"l":270,"h":610},{"p":17,"m":1,"x":1.5,"y":450,"l":280,"h":620},{"p":17,"m":1,"x":1.7,"y":520,"l":350,"h":690},{"p":17,"m":1,"x":1.9,"y":560,"l":390,"h":730},{"p":17,"m":1,"x":2.1,"y":590,"l":420,"h":760},{"p":17,"m":1,"x":2.3,"y":570,"l":400,"h":740},{"p":17,"m":1,"x":2.45,"y":520,"l":350,"h":690},
{"p":17,"m":2,"x":0,"y":0,"l":0,"h":5},{"p":17,"m":2,"x":1.0,"y":5,"l":0,"h":10},{"p":17,"m":2,"x":2.0,"y":10,"l":5,"h":15},{"p":17,"m":2,"x":2.45,"y":15,"l":10,"h":20},
{"p":17,"m":3,"x":0,"y":0,"l":0,"h":5},{"p":17,"m":3,"x":0.3,"y":100,"l":40,"h":160},{"p":17,"m":3,"x":0.4,"y":180,"l":80,"h":280},{"p":17,"m":3,"x":0.6,"y":200,"l":80,"h":320},{"p":17,"m":3,"x":0.8,"y":240,"l":110,"h":370},{"p":17,"m":3,"x":1.0,"y":280,"l":130,"h":430},{"p":17,"m":3,"x":1.3,"y":320,"l":170,"h":470},{"p":17,"m":3,"x":1.5,"y":330,"l":180,"h":480},{"p":17,"m":3,"x":1.8,"y":360,"l":210,"h":510},{"p":17,"m":3,"x":2.0,"y":380,"l":230,"h":530},{"p":17,"m":3,"x":2.2,"y":370,"l":220,"h":520},{"p":17,"m":3,"x":2.45,"y":300,"l":150,"h":450},
{"p":17,"m":4,"x":0,"y":0,"l":0,"h":5},{"p":17,"m":4,"x":0.5,"y":10,"l":0,"h":20},{"p":17,"m":4,"x":1.0,"y":30,"l":10,"h":50},{"p":17,"m":4,"x":1.5,"y":40,"l":10,"h":70},{"p":17,"m":4,"x":2.0,"y":60,"l":10,"h":110},{"p":17,"m":4,"x":2.3,"y":110,"l":50,"h":170},{"p":17,"m":4,"x":2.45,"y":110,"l":50,"h":170},
{"p":17,"m":5,"x":0,"y":0,"l":0,"h":5},{"p":17,"m":5,"x":0.5,"y":10,"l":5,"h":15},{"p":17,"m":5,"x":1.0,"y":20,"l":10,"h":30},{"p":17,"m":5,"x":1.5,"y":30,"l":20,"h":40},{"p":17,"m":5,"x":2.1,"y":30,"l":20,"h":40},
{"p":17,"m":6,"x":0,"y":0,"l":0,"h":5},{"p":17,"m":6,"x":0.1,"y":10,"l":0,"h":20},{"p":17,"m":6,"x":0.2,"y":150,"l":70,"h":230},{"p":17,"m":6,"x":0.3,"y":250,"l":100,"h":400},{"p":17,"m":6,"x":0.4,"y":420,"l":220,"h":620},{"p":17,"m":6,"x":0.5,"y":530,"l":330,"h":730},{"p":17,"m":6,"x":0.6,"y":620,"l":470,"h":770},{"p":17,"m":6,"x":0.7,"y":700,"l":600,"h":800},{"p":17,"m":6,"x":0.8,"y":780,"l":700,"h":860},{"p":17,"m":6,"x":1.0,"y":870,"l":830,"h":910},{"p":17,"m":6,"x":1.3,"y":880,"l":850,"h":910},{"p":17,"m":6,"x":1.6,"y":900,"l":875,"h":925},{"p":17,"m":6,"x":1.9,"y":910,"l":885,"h":935},{"p":17,"m":6,"x":2.15,"y":920,"l":900,"h":940},

{"p":18,"m":0,"x":0,"y":0,"l":0,"h":5},{"p":18,"m":0,"x":0.5,"y":10,"l":0,"h":20},{"p":18,"m":0,"x":1.0,"y":15,"l":5,"h":25},{"p":18,"m":0,"x":2.0,"y":15,"l":5,"h":25},{"p":18,"m":0,"x":2.45,"y":20,"l":10,"h":30},
{"p":18,"m":1,"x":0,"y":0,"l":0,"h":5},{"p":18,"m":1,"x":1.0,"y":10,"l":5,"h":15},{"p":18,"m":1,"x":2.0,"y":10,"l":5,"h":15},{"p":18,"m":1,"x":2.45,"y":10,"l":5,"h":15},
{"p":18,"m":2,"x":0,"y":0,"l":0,"h":5},{"p":18,"m":2,"x":1.0,"y":10,"l":5,"h":15},{"p":18,"m":2,"x":2.0,"y":5,"l":0,"h":10},{"p":18,"m":2,"x":2.45,"y":5,"l":0,"h":10},
{"p":18,"m":3,"x":0,"y":0,"l":0,"h":5},{"p":18,"m":3,"x":0.2,"y":20,"l":10,"h":30},{"p":18,"m":3,"x":0.4,"y":60,"l":30,"h":90},{"p":18,"m":3,"x":0.6,"y":80,"l":40,"h":120},{"p":18,"m":3,"x":0.8,"y":80,"l":40,"h":120},{"p":18,"m":3,"x":1.0,"y":100,"l":60,"h":140},{"p":18,"m":3,"x":1.2,"y":100,"l":60,"h":140},{"p":18,"m":3,"x":1.25,"y":150,"l":110,"h":190},{"p":18,"m":3,"x":1.4,"y":100,"l":60,"h":140},{"p":18,"m":3,"x":1.6,"y":110,"l":70,"h":150},{"p":18,"m":3,"x":1.8,"y":100,"l":60,"h":140},{"p":18,"m":3,"x":2.0,"y":110,"l":70,"h":150},{"p":18,"m":3,"x":2.2,"y":120,"l":80,"h":160},
{"p":18,"m":4,"x":0,"y":0,"l":0,"h":5},{"p":18,"m":4,"x":0.5,"y":20,"l":10,"h":30},{"p":18,"m":4,"x":1.0,"y":30,"l":15,"h":45},{"p":18,"m":4,"x":1.5,"y":40,"l":20,"h":60},{"p":18,"m":4,"x":2.0,"y":50,"l":30,"h":70},{"p":18,"m":4,"x":2.3,"y":80,"l":55,"h":105},{"p":18,"m":4,"x":2.45,"y":50,"l":30,"h":70},
{"p":18,"m":5,"x":0,"y":0,"l":0,"h":5},{"p":18,"m":5,"x":0.5,"y":15,"l":5,"h":25},{"p":18,"m":5,"x":1.0,"y":20,"l":10,"h":30},{"p":18,"m":5,"x":1.5,"y":25,"l":15,"h":35},{"p":18,"m":5,"x":2.0,"y":20,"l":10,"h":30},{"p":18,"m":5,"x":2.15,"y":30,"l":20,"h":40},
{"p":18,"m":6,"x":0,"y":0,"l":0,"h":5},{"p":18,"m":6,"x":0.2,"y":40,"l":20,"h":60},{"p":18,"m":6,"x":0.4,"y":100,"l":70,"h":130},{"p":18,"m":6,"x":0.5,"y":150,"l":110,"h":190},{"p":18,"m":6,"x":0.7,"y":170,"l":130,"h":210},{"p":18,"m":6,"x":0.9,"y":190,"l":150,"h":230},{"p":18,"m":6,"x":1.1,"y":220,"l":180,"h":260},{"p":18,"m":6,"x":1.3,"y":210,"l":170,"h":250},{"p":18,"m":6,"x":1.5,"y":240,"l":200,"h":280},{"p":18,"m":6,"x":1.7,"y":250,"l":210,"h":290},{"p":18,"m":6,"x":1.9,"y":250,"l":210,"h":290},{"p":18,"m":6,"x":2.0,"y":220,"l":180,"h":260},{"p":18,"m":6,"x":2.1,"y":280,"l":230,"h":330},{"p":18,"m":6,"x":2.25,"y":220,"l":180,"h":260},

{"p":19,"m":0,"x":0,"y":0,"l":0,"h":2},{"p":19,"m":0,"x":2.45,"y":0,"l":0,"h":2},
{"p":19,"m":1,"x":0,"y":0,"l":0,"h":2},{"p":19,"m":1,"x":0.2,"y":0,"l":0,"h":2},{"p":19,"m":1,"x":0.4,"y":40,"l":30,"h":50},{"p":19,"m":1,"x":0.6,"y":60,"l":45,"h":75},{"p":19,"m":1,"x":1.0,"y":80,"l":65,"h":95},{"p":19,"m":1,"x":1.5,"y":100,"l":80,"h":120},{"p":19,"m":1,"x":2.0,"y":130,"l":110,"h":150},{"p":19,"m":1,"x":2.45,"y":150,"l":125,"h":175},
{"p":19,"m":2,"x":0,"y":0,"l":0,"h":2},{"p":19,"m":2,"x":2.45,"y":0,"l":0,"h":2},
{"p":19,"m":3,"x":0,"y":0,"l":0,"h":2},{"p":19,"m":3,"x":0.3,"y":0,"l":0,"h":2},{"p":19,"m":3,"x":0.5,"y":30,"l":20,"h":40},{"p":19,"m":3,"x":1.0,"y":50,"l":40,"h":60},{"p":19,"m":3,"x":1.5,"y":70,"l":60,"h":80},{"p":19,"m":3,"x":2.0,"y":90,"l":80,"h":100},{"p":19,"m":3,"x":2.1,"y":80,"l":70,"h":90},
{"p":19,"m":4,"x":0,"y":0,"l":0,"h":2},{"p":19,"m":4,"x":2.45,"y":0,"l":0,"h":2},
{"p":19,"m":5,"x":0,"y":0,"l":0,"h":2},{"p":19,"m":5,"x":2.15,"y":0,"l":0,"h":2},
{"p":19,"m":6,"x":0,"y":0,"l":0,"h":2},{"p":19,"m":6,"x":0.15,"y":0,"l":0,"h":2},{"p":19,"m":6,"x":0.3,"y":30,"l":20,"h":40},{"p":19,"m":6,"x":0.5,"y":70,"l":55,"h":85},{"p":19,"m":6,"x":0.7,"y":110,"l":95,"h":125},{"p":19,"m":6,"x":0.9,"y":140,"l":125,"h":155},{"p":19,"m":6,"x":1.2,"y":170,"l":155,"h":185},{"p":19,"m":6,"x":1.5,"y":200,"l":185,"h":215},{"p":19,"m":6,"x":1.8,"y":220,"l":205,"h":235},{"p":19,"m":6,"x":2.1,"y":240,"l":225,"h":255},{"p":19,"m":6,"x":2.45,"y":260,"l":245,"h":275}
]},
"spacing": 12,
"hconcat": [
{
  "data": {"name": "tasks"},
  "width": 1, "height": 572,
  "view": {"stroke": null, "fill": null},
  "mark": {"type": "point", "opacity": 0},
  "encoding": {"y": {"field": "p", "type": "quantitative", "axis": {"title": "Mean Reward", "labels": false, "ticks": false, "domain": false, "grid": false, "titlePadding": 0}}}
},
{
  "data": {"name": "runs"},
  "transform": [
    {"lookup": "p", "from": {"data": {"name": "tasks"}, "key": "p", "fields": ["task"]}},
    {"lookup": "m", "from": {"data": {"name": "methods"}, "key": "m", "fields": ["method"]}}
  ],
  "columns": 5,
  "spacing": {"row": 7, "column": 6},
  "facet": {"field": "task", "type": "nominal", "title": null,
    "sort": ["ball_in_cup/catch","cartpole/balance","cartpole/balance_sparse","walker/stand","cartpole/swingup","walker/walk","reacher/easy","finger/spin","quadruped/walk","cartpole/swingup_sparse","reacher/hard","finger/turn_easy","walker/run","cheetah/run","pendulum/swingup","quadruped/run","finger/turn_hard","hopper/stand","acrobot/swingup","hopper/hop"],
    "header": {"labelFontSize": 11.5, "labelFont": "DejaVu Sans", "labelColor": "#000", "labelPadding": 4}},
  "spec": {
    "width": 156, "height": 144,
    "encoding": {
      "x": {"field": "x", "type": "quantitative", "scale": {"domain": [-0.125, 2.625], "nice": false, "zero": false}, "axis": {"values": [0, 1, 2], "format": "d", "title": "1e6", "titleAnchor": "end", "titleAlign": "right", "titlePadding": 0, "titleFontSize": 12}},
      "color": {"field": "method", "type": "nominal",
        "scale": {"domain": ["SAC","DeepMDP","DBC","DBC-normed","MICo","RAP","SimSR"], "range": ["#7570b3","#d95f02","#a6761d","#e6ab02","#66a61e","#1b9e77","#e7298a"]},
        "legend": {"orient": "none", "legendX": 22, "legendY": -56, "direction": "horizontal", "columns": 7, "title": null, "symbolOpacity": 1, "symbolType": "M-2,0H2", "symbolSize": 169, "symbolOffset": 6.5, "symbolStrokeWidth": 2.5, "labelOffset": 22, "columnPadding": 30, "padding": 6}}
    },
    "layer": [
      {"mark": {"type": "area", "opacity": 0.16, "clip": true},
       "encoding": {
         "y": {"field": "l", "type": "quantitative", "scale": {"domain": [-25, 1052], "nice": false, "zero": false}, "axis": {"values": [0, 250, 500, 750, 1000], "format": "d", "title": null}},
         "y2": {"field": "h"}
       }},
      {"mark": {"type": "line", "strokeWidth": 1.6, "clip": true},
       "encoding": {
         "y": {"field": "y", "type": "quantitative", "scale": {"domain": [-25, 1052], "nice": false, "zero": false}, "axis": {"values": [0, 250, 500, 750, 1000], "format": "d", "title": null}}
       }}
    ]
  }
}
],
"config": {
  "font": "DejaVu Sans",
  "view": {"stroke": "#333333", "strokeWidth": 1, "fill": "#f8f8f8"},
  "axis": {"grid": true, "gridColor": "#b8b8b8", "gridWidth": 0.8, "domain": false, "tickColor": "#333333", "tickSize": 3.5, "labelFontSize": 11, "labelColor": "#000", "labelFont": "DejaVu Sans", "titleFont": "DejaVu Sans", "titleFontWeight": "normal", "titleFontSize": 11, "titleColor": "#000", "labelPadding": 2},
  "legend": {"symbolStrokeWidth": 2.5, "symbolOpacity": 1, "labelFontSize": 11.5, "labelFont": "DejaVu Sans", "labelColor": "#000", "strokeColor": "#cccccc", "cornerRadius": 3, "fillColor": "#ffffff"}
}
}
